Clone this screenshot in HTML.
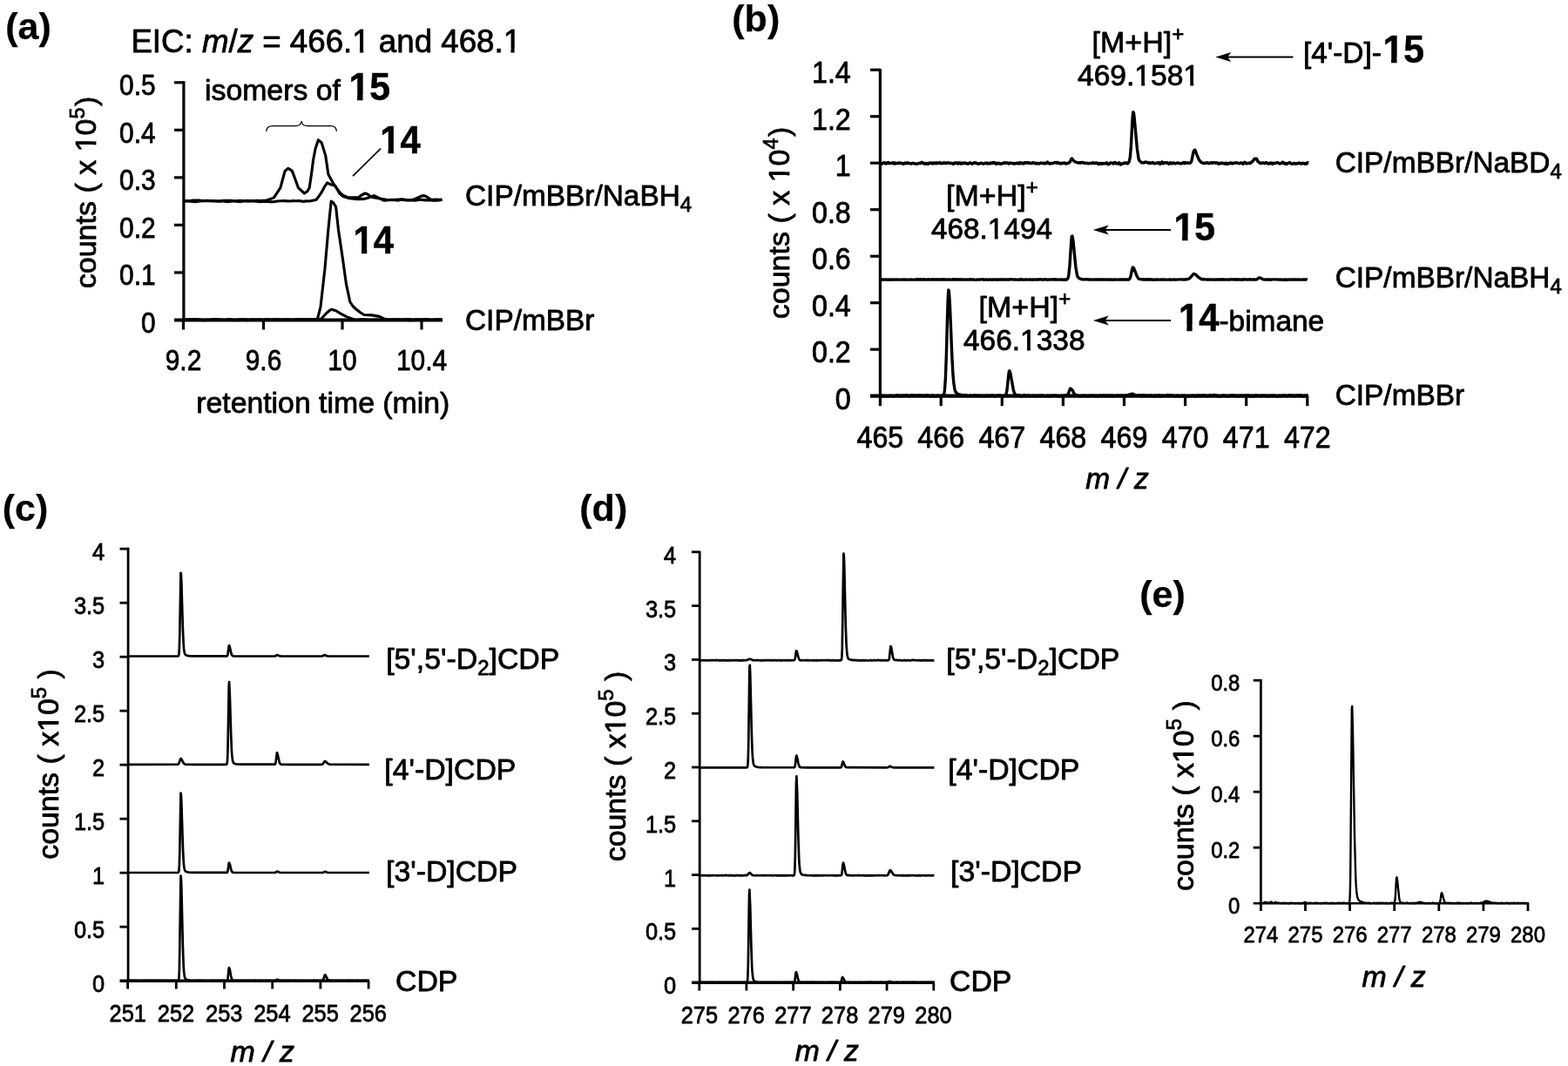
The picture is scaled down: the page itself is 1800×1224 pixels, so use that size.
<!DOCTYPE html>
<html lang="en"><head><meta charset="utf-8"><title>Figure</title>
<style>html,body{margin:0;padding:0;background:#fff}svg{display:block}text{font-family:"Liberation Sans",Arial,Helvetica,sans-serif;fill:#000}</style>
</head><body>
<svg width="1800" height="1224" viewBox="0 0 1800 1224">
<rect x="0" y="0" width="1800" height="1224" fill="#fff"/>
<g id="panel-a">
<text x="6.2" y="45.1" font-size="43" font-weight="bold" stroke="#000" stroke-width="0.25" stroke-linejoin="round">(a)</text>
<text id="t1" x="150.4" y="60.3" font-size="36.7" stroke="#000" stroke-width="0.8" stroke-linejoin="round">EIC: <tspan font-style="italic">m</tspan>/<tspan font-style="italic">z</tspan> = 466.1 and 468.1</text>
<rect x="404.99" y="55.55" width="7.99" height="6.95" fill="#fff"/><rect x="417.21" y="55.55" width="6.89" height="6.95" fill="#fff"/><rect x="578.4" y="55.55" width="7.99" height="6.95" fill="#fff"/><rect x="590.61" y="55.55" width="6.89" height="6.95" fill="#fff"/>
<text x="235" y="115" font-size="33.8" stroke="#000" stroke-width="0.8" stroke-linejoin="round">isomers of</text>
<text x="400.5" y="115.3" font-size="44.2" font-weight="bold" textLength="47.5" lengthAdjust="spacingAndGlyphs" stroke="#000" stroke-width="0.5" stroke-linejoin="round">15</text>
<rect x="401.78" y="109.16" width="8.3" height="7.84" fill="#fff"/>
<rect x="416.55" y="109.16" width="7.45" height="7.84" fill="#fff"/>
<text x="436.2" y="176.2" font-size="44.2" font-weight="bold" textLength="46.4" lengthAdjust="spacingAndGlyphs" stroke="#000" stroke-width="0.5" stroke-linejoin="round">14</text>
<rect x="437.45" y="170.06" width="8.1" height="7.84" fill="#fff"/>
<rect x="451.88" y="170.06" width="7.27" height="7.84" fill="#fff"/>
<text x="405.6" y="291.4" font-size="44.2" font-weight="bold" textLength="46.4" lengthAdjust="spacingAndGlyphs" stroke="#000" stroke-width="0.5" stroke-linejoin="round">14</text>
<rect x="406.85" y="285.26" width="8.1" height="7.84" fill="#fff"/>
<rect x="421.28" y="285.26" width="7.27" height="7.84" fill="#fff"/>
<text x="534" y="236" font-size="33.4" stroke="#000" stroke-width="0.8" stroke-linejoin="round">CIP/mBBr/NaBH<tspan font-size="24" dy="6.5">4</tspan></text>
<text x="534" y="379" font-size="33.4" stroke="#000" stroke-width="0.8" stroke-linejoin="round">CIP/mBBr</text>
<line x1="210.9" y1="93.2" x2="210.9" y2="369.1" stroke="#000" stroke-width="3.2" stroke-linecap="butt"/>
<line x1="200" y1="367.5" x2="508" y2="367.5" stroke="#000" stroke-width="4.2" stroke-linecap="butt"/>
<text transform="translate(178.6,381.7) scale(0.88,1)" font-size="34" text-anchor="end" stroke="#000" stroke-width="0.8" stroke-linejoin="round">0</text>
<line x1="200" y1="312.95" x2="210.9" y2="312.95" stroke="#000" stroke-width="3.2" stroke-linecap="butt"/>
<text transform="translate(178.6,327.15) scale(0.88,1)" font-size="34" text-anchor="end" stroke="#000" stroke-width="0.8" stroke-linejoin="round">0.1</text>
<line x1="200" y1="258.4" x2="210.9" y2="258.4" stroke="#000" stroke-width="3.2" stroke-linecap="butt"/>
<text transform="translate(178.6,272.6) scale(0.88,1)" font-size="34" text-anchor="end" stroke="#000" stroke-width="0.8" stroke-linejoin="round">0.2</text>
<line x1="200" y1="203.85" x2="210.9" y2="203.85" stroke="#000" stroke-width="3.2" stroke-linecap="butt"/>
<text transform="translate(178.6,218.05) scale(0.88,1)" font-size="34" text-anchor="end" stroke="#000" stroke-width="0.8" stroke-linejoin="round">0.3</text>
<line x1="200" y1="149.3" x2="210.9" y2="149.3" stroke="#000" stroke-width="3.2" stroke-linecap="butt"/>
<text transform="translate(178.6,163.5) scale(0.88,1)" font-size="34" text-anchor="end" stroke="#000" stroke-width="0.8" stroke-linejoin="round">0.4</text>
<line x1="200" y1="94.75" x2="210.9" y2="94.75" stroke="#000" stroke-width="3.2" stroke-linecap="butt"/>
<text transform="translate(178.6,108.95) scale(0.88,1)" font-size="34" text-anchor="end" stroke="#000" stroke-width="0.8" stroke-linejoin="round">0.5</text>
<line x1="210.5" y1="367.5" x2="210.5" y2="378.5" stroke="#000" stroke-width="3.2" stroke-linecap="butt"/>
<text transform="translate(210.5,424.5) scale(0.88,1)" font-size="34" text-anchor="middle" stroke="#000" stroke-width="0.8" stroke-linejoin="round">9.2</text>
<line x1="302.5" y1="367.5" x2="302.5" y2="378.5" stroke="#000" stroke-width="3.2" stroke-linecap="butt"/>
<text transform="translate(302.5,424.5) scale(0.88,1)" font-size="34" text-anchor="middle" stroke="#000" stroke-width="0.8" stroke-linejoin="round">9.6</text>
<line x1="393" y1="367.5" x2="393" y2="378.5" stroke="#000" stroke-width="3.2" stroke-linecap="butt"/>
<text transform="translate(393,424.5) scale(0.88,1)" font-size="34" text-anchor="middle" stroke="#000" stroke-width="0.8" stroke-linejoin="round">10</text>
<line x1="484" y1="367.5" x2="484" y2="378.5" stroke="#000" stroke-width="3.2" stroke-linecap="butt"/>
<text transform="translate(484,424.5) scale(0.88,1)" font-size="34" text-anchor="middle" stroke="#000" stroke-width="0.8" stroke-linejoin="round">10.4</text>
<text x="225.2" y="474" font-size="33.8" stroke="#000" stroke-width="0.8" stroke-linejoin="round">retention time (min)</text>
<g transform="translate(110,331.2) rotate(-90)"><text id="t2" font-size="34" stroke="#000" stroke-width="0.8" stroke-linejoin="round">counts ( x 10<tspan font-size="23.5" dy="-13">5</tspan><tspan dy="13" dx="1.5">)</tspan></text><rect x="157.51" y="-4.55" width="7.36" height="6.75" fill="#fff"/><rect x="168.86" y="-4.55" width="6.34" height="6.75" fill="#fff"/></g>
<path d="M305.8,151 C305.8,146.5 308,144.7 313,144.7 L339,144.7 C343.5,144.7 345.5,143 346,139 C346.5,143 348.5,144.7 353,144.7 L379.5,144.7 C384.3,144.7 386.3,146.5 386.3,151" fill="none" stroke="#000" stroke-width="1.2"/>
<line x1="405" y1="202.2" x2="437" y2="170.6" stroke="#000" stroke-width="1.8" stroke-linecap="butt"/>
<path d="M212,230.42 L215.3,230.75 L218.45,230.64 L222.18,230.16 L226.19,230.14 L230.06,230.17 L233.24,230.52 L237.9,230.22 L241.34,230.73 L246.24,230.68 L250.03,231.08 L253.12,230.96 L256.7,230.24 L259.94,230.41 L264.57,230.28 L268.73,230.74 L272.48,230.65 L275.6,230.16 L279.02,230.78 L282.87,230.41 L287.04,230.55 L290.64,230.89 L295.04,230.34 L299.19,230.63 L306,230 L314.3,227.1 L321.9,215.6 L325,204 L327.1,196.4 L330.9,193.3 L335.4,196.4 L339,206 L342.4,215.6 L349.4,222 L353,219.5 L355.2,215.6 L357.5,200 L359.6,183.7 L362,171 L365.4,160.7 L369.2,163.9 L373.7,178.6 L376.9,200.3 L383.3,211.8 L389.7,220.7 L394,224.5 L398.6,226.5 L411.4,226.7 L415,224 L419.1,222 L422,223 L425.4,225.8 L430,227 L436,228 L443.3,229.2 L447,229.53 L450.58,229.78 L453.81,229.22 L458.33,228.95 L462.3,228.84 L466.64,229.56 L470.79,229.68 L475.3,229 L481,226.5 L484,225 L486.8,224.6 L490,226 L494.4,229 L497,229.23 L500.19,229.1 L503.1,229.41 L507.5,229" fill="none" stroke="#000" stroke-width="3.1" stroke-linejoin="round" stroke-linecap="butt" />
<path d="M212,231.17 L216.33,230.67 L220.73,231.38 L225.72,231.59 L229.29,231.06 L233.62,230.63 L237.55,230.8 L240.78,230.67 L245.32,230.76 L248.81,231.07 L253.56,230.7 L257.45,231.26 L262.22,231.58 L266.95,230.93 L270.78,231.03 L275.55,231.75 L278.85,230.81 L282.31,230.88 L286.28,231.31 L289.81,230.6 L293.65,231.04 L297.78,231.74 L302.16,231.22 L306.4,231.41 L309.5,231.68 L314.06,231.65 L318.66,231.07 L322.46,230.72 L326.73,230.67 L329.86,230.85 L333.19,231.01 L336.29,230.6 L339.59,230.72 L343.32,230.63 L348.07,231.34 L351.37,230.9 L355.06,231.04 L362.8,229.5 L366,225.5 L369.2,220.7 L372.5,214.5 L375.6,209.9 L379.4,211.8 L384.6,213 L387,217 L389.7,222 L394,225.5 L401.2,227.8 L410,228.6 L417.8,228.4 L423,227 L429.3,224.6 L433,226.5 L437,228.4 L441,230.22 L445.99,229.76 L449.95,229.3 L453.16,229.61 L456.69,230.19 L460.01,229.23 L464.91,229.83 L468.21,229.85 L471.26,229.83 L476.22,230.24 L480.61,229.51 L484.34,229.4 L488.89,229.84 L493.44,229.6 L496.89,230.17 L501.86,230.22 L507.5,229.5" fill="none" stroke="#000" stroke-width="3.1" stroke-linejoin="round" stroke-linecap="butt" />
<path d="M212,367.25 L216.48,366.78 L220.52,366.88 L223.57,366.62 L227.13,366.81 L231.52,367.37 L235.41,367.35 L240.39,367.36 L244.12,366.78 L247.57,366.76 L250.98,367.1 L255.78,367.27 L259.74,367.12 L264.34,366.67 L268.66,367.33 L273.22,367.2 L277.18,366.74 L281.76,366.87 L286.36,367.38 L290.15,366.92 L295.04,367.18 L298.38,366.7 L301.69,367.32 L306.3,366.72 L310.95,367.38 L315.27,366.88 L319.37,366.7 L322.39,367.38 L326.69,367.02 L331.56,366.95 L336.3,367.26 L339.73,366.8 L343.31,366.79 L347.48,366.81 L351.32,366.7 L356.14,366.88 L364.4,366.3 L368,352.4 L373,308.2 L376.8,264.1 L380.2,231 L382.5,232.5 L385.6,237.6 L388.5,264.1 L392.9,293.5 L397.4,325.9 L401.8,346.5 L405,351.5 L409.1,355.3 L413.5,358.8 L417.9,361.5 L426.8,361.9 L435.6,363.4 L441.5,366.3 L446,367.08 L450.81,366.92 L455.64,367 L459.71,367.02 L462.75,366.94 L466.11,366.5 L470.71,366.67 L474.66,367.23 L478.77,366.83 L482.81,367.06 L487.37,366.61 L491.5,366.75 L495.05,367.27 L499.06,367.06 L503.58,367.41 L507.5,367" fill="none" stroke="#000" stroke-width="3.1" stroke-linejoin="round" stroke-linecap="butt" />
<path d="M212,367.39 L216.01,367.31 L220.4,367.26 L224.46,367.28 L229.35,367.46 L234.1,367.65 L237.62,367.35 L242.5,367.57 L245.78,367 L249.66,366.96 L253.14,366.96 L257.48,367.53 L262.28,367.02 L266.71,367.43 L270,367.61 L274.93,367.08 L279.84,367.22 L283.81,367.69 L288.48,367.03 L292.34,367.31 L296.02,367.06 L299.65,367.48 L302.69,367.34 L306.57,366.91 L310.24,367.4 L314.26,366.95 L319.23,367.53 L324.17,366.98 L327.71,366.93 L332.26,367.12 L335.52,367.24 L340.35,367.56 L343.86,367.02 L348.7,367.36 L353.1,366.97 L356.22,367.45 L360.07,366.96 L368.7,366.3 L374.6,359.7 L378,356.8 L380.4,355.3 L385.6,356.8 L391.5,360.4 L398.8,364.1 L404.7,366.3 L409,367.43 L413.6,366.88 L418.32,366.87 L423.04,367.25 L426.72,367.35 L431.57,367.07 L434.83,367.33 L438.31,366.91 L441.63,366.85 L445.03,367.11 L448.64,367.56 L452.22,367.3 L455.58,367.15 L458.62,367.05 L461.65,367.53 L465.75,366.99 L469.7,367.73 L472.91,367.62 L476.78,367.3 L481.45,367.19 L485.46,367.49 L490.42,367.14 L495.09,367.51 L499.36,367.2 L503.06,366.85 L507.5,367" fill="none" stroke="#000" stroke-width="3.1" stroke-linejoin="round" stroke-linecap="butt" />
</g>
<g id="panel-b">
<text x="840.3" y="36.4" font-size="43" font-weight="bold" stroke="#000" stroke-width="0.25" stroke-linejoin="round">(b)</text>
<line x1="1010.4" y1="79" x2="1010.4" y2="456.3" stroke="#000" stroke-width="3.2" stroke-linecap="butt"/>
<line x1="999" y1="454.7" x2="1501.8" y2="454.7" stroke="#000" stroke-width="4.2" stroke-linecap="butt"/>
<text transform="translate(976.8,469.7) scale(0.935,1)" font-size="34.5" text-anchor="end" stroke="#000" stroke-width="0.8" stroke-linejoin="round">0</text>
<line x1="999" y1="401.2" x2="1010.4" y2="401.2" stroke="#000" stroke-width="3.2" stroke-linecap="butt"/>
<text transform="translate(976.8,416.2) scale(0.935,1)" font-size="34.5" text-anchor="end" stroke="#000" stroke-width="0.8" stroke-linejoin="round">0.2</text>
<line x1="999" y1="347.7" x2="1010.4" y2="347.7" stroke="#000" stroke-width="3.2" stroke-linecap="butt"/>
<text transform="translate(976.8,362.7) scale(0.935,1)" font-size="34.5" text-anchor="end" stroke="#000" stroke-width="0.8" stroke-linejoin="round">0.4</text>
<line x1="999" y1="294.2" x2="1010.4" y2="294.2" stroke="#000" stroke-width="3.2" stroke-linecap="butt"/>
<text transform="translate(976.8,309.2) scale(0.935,1)" font-size="34.5" text-anchor="end" stroke="#000" stroke-width="0.8" stroke-linejoin="round">0.6</text>
<line x1="999" y1="240.7" x2="1010.4" y2="240.7" stroke="#000" stroke-width="3.2" stroke-linecap="butt"/>
<text transform="translate(976.8,255.7) scale(0.935,1)" font-size="34.5" text-anchor="end" stroke="#000" stroke-width="0.8" stroke-linejoin="round">0.8</text>
<line x1="999" y1="187.2" x2="1010.4" y2="187.2" stroke="#000" stroke-width="3.2" stroke-linecap="butt"/>
<text transform="translate(976.8,202.2) scale(0.935,1)" font-size="34.5" text-anchor="end" stroke="#000" stroke-width="0.8" stroke-linejoin="round">1</text>
<line x1="999" y1="133.7" x2="1010.4" y2="133.7" stroke="#000" stroke-width="3.2" stroke-linecap="butt"/>
<text transform="translate(976.8,148.7) scale(0.935,1)" font-size="34.5" text-anchor="end" stroke="#000" stroke-width="0.8" stroke-linejoin="round">1.2</text>
<line x1="999" y1="80.2" x2="1010.4" y2="80.2" stroke="#000" stroke-width="3.2" stroke-linecap="butt"/>
<text transform="translate(976.8,95.2) scale(0.935,1)" font-size="34.5" text-anchor="end" stroke="#000" stroke-width="0.8" stroke-linejoin="round">1.4</text>
<line x1="1010.4" y1="454.7" x2="1010.4" y2="466.2" stroke="#000" stroke-width="3.2" stroke-linecap="butt"/>
<text transform="translate(1010.4,513.6) scale(0.935,1)" font-size="34.5" text-anchor="middle" stroke="#000" stroke-width="0.8" stroke-linejoin="round">465</text>
<line x1="1080.2" y1="454.7" x2="1080.2" y2="466.2" stroke="#000" stroke-width="3.2" stroke-linecap="butt"/>
<text transform="translate(1080.2,513.6) scale(0.935,1)" font-size="34.5" text-anchor="middle" stroke="#000" stroke-width="0.8" stroke-linejoin="round">466</text>
<line x1="1150.3" y1="454.7" x2="1150.3" y2="466.2" stroke="#000" stroke-width="3.2" stroke-linecap="butt"/>
<text transform="translate(1150.3,513.6) scale(0.935,1)" font-size="34.5" text-anchor="middle" stroke="#000" stroke-width="0.8" stroke-linejoin="round">467</text>
<line x1="1220.4" y1="454.7" x2="1220.4" y2="466.2" stroke="#000" stroke-width="3.2" stroke-linecap="butt"/>
<text transform="translate(1220.4,513.6) scale(0.935,1)" font-size="34.5" text-anchor="middle" stroke="#000" stroke-width="0.8" stroke-linejoin="round">468</text>
<line x1="1290.5" y1="454.7" x2="1290.5" y2="466.2" stroke="#000" stroke-width="3.2" stroke-linecap="butt"/>
<text transform="translate(1290.5,513.6) scale(0.935,1)" font-size="34.5" text-anchor="middle" stroke="#000" stroke-width="0.8" stroke-linejoin="round">469</text>
<line x1="1360.6" y1="454.7" x2="1360.6" y2="466.2" stroke="#000" stroke-width="3.2" stroke-linecap="butt"/>
<text transform="translate(1360.6,513.6) scale(0.935,1)" font-size="34.5" text-anchor="middle" stroke="#000" stroke-width="0.8" stroke-linejoin="round">470</text>
<line x1="1430.7" y1="454.7" x2="1430.7" y2="466.2" stroke="#000" stroke-width="3.2" stroke-linecap="butt"/>
<text transform="translate(1430.7,513.6) scale(0.935,1)" font-size="34.5" text-anchor="middle" stroke="#000" stroke-width="0.8" stroke-linejoin="round">471</text>
<line x1="1500.8" y1="454.7" x2="1500.8" y2="466.2" stroke="#000" stroke-width="3.2" stroke-linecap="butt"/>
<text transform="translate(1500.8,513.6) scale(0.935,1)" font-size="34.5" text-anchor="middle" stroke="#000" stroke-width="0.8" stroke-linejoin="round">472</text>
<text x="1246.3" y="560.6" font-size="33" font-style="italic" textLength="72.5" lengthAdjust="spacingAndGlyphs" stroke="#000" stroke-width="0.8" stroke-linejoin="round">m / z</text>
<g transform="translate(906,366.2) rotate(-90)"><text id="t3" font-size="34" stroke="#000" stroke-width="0.8" stroke-linejoin="round">counts ( x 10<tspan font-size="23.5" dy="-13">4</tspan><tspan dy="13" dx="1.5">)</tspan></text><rect x="157.51" y="-4.55" width="7.36" height="6.75" fill="#fff"/><rect x="168.86" y="-4.55" width="6.34" height="6.75" fill="#fff"/></g>
<path d="M1010.4,454.75 L1010.9,454.61 L1012.4,454.99 L1012.9,454.55 L1013.9,454.32 L1015.9,454.82 L1016.4,454.61 L1016.9,454.92 L1017.4,454.98 L1017.9,454.98 L1018.4,454.58 L1019.9,454.91 L1020.4,454.64 L1020.9,454.7 L1021.9,454.24 L1023.4,454.77 L1026.9,454.48 L1029.4,454.09 L1029.9,453.77 L1031.9,454.57 L1032.9,454.12 L1034.4,454.96 L1035.9,453.93 L1036.9,454.38 L1037.4,454.37 L1038.9,454.21 L1039.9,453.65 L1043.9,454.94 L1045.4,453.93 L1046.4,454.04 L1047.4,454.47 L1048.9,453.94 L1049.9,454.31 L1050.9,454.22 L1052.4,454.56 L1053.4,454.25 L1053.9,453.82 L1054.4,453.77 L1055.9,454.2 L1057.9,454.09 L1058.4,454.38 L1059.4,454.57 L1060.9,454.23 L1061.9,454.56 L1063.4,454 L1064.4,454.04 L1066.9,454.43 L1067.4,454.79 L1067.9,454.66 L1068.4,454.9 L1068.9,454.55 L1069.4,454.78 L1069.9,454.22 L1070.9,453.93 L1071.9,454.92 L1072.9,455.04 L1073.4,454.78 L1073.9,454.88 L1075.4,454.54 L1075.9,454.28 L1076.4,454.5 L1076.9,454.25 L1078.4,454.75 L1080.9,454.3 L1081.9,454.54 L1082.9,453.97 L1083.4,453.24 L1083.9,451.63 L1084.4,448.21 L1085.4,434.34 L1086.4,406.79 L1087.9,351.15 L1088.4,338.55 L1088.9,332.9 L1089.4,334.92 L1090.4,349.73 L1092.9,410.36 L1093.9,428.66 L1094.4,434.84 L1094.9,439.95 L1095.9,446.51 L1096.4,448.69 L1096.9,450.12 L1097.9,450.69 L1098.4,451.54 L1099.4,452.58 L1099.9,452.55 L1101.4,452.97 L1101.9,452.88 L1103.4,453.69 L1105.4,453.66 L1105.9,454.11 L1106.9,454.36 L1107.9,453.87 L1108.9,453.81 L1110.9,454.74 L1113.4,454.36 L1113.9,453.95 L1114.9,454.44 L1116.4,454.37 L1116.9,454.54 L1117.4,454.18 L1118.4,453.91 L1120.4,454.2 L1121.9,454.65 L1123.9,454.14 L1124.9,454.37 L1126.4,454.36 L1127.9,454.71 L1128.9,454.31 L1129.4,454.64 L1130.4,454.84 L1130.9,454.48 L1132.4,454.11 L1133.4,454.49 L1134.9,454.22 L1135.4,454.57 L1136.9,454.18 L1137.9,454.51 L1139.4,453.82 L1140.9,454.8 L1141.9,454.87 L1143.4,454.29 L1143.9,454.46 L1145.4,454.09 L1145.9,454.3 L1147.4,454.07 L1147.9,454.35 L1149.4,454.31 L1150.4,454.74 L1151.4,454.7 L1151.9,454.35 L1152.9,454.38 L1153.4,454.68 L1154.4,453.92 L1154.9,452.9 L1155.9,448.68 L1157.9,429.63 L1158.4,426.28 L1158.9,425.71 L1159.9,428.79 L1163.4,448 L1164.4,451.18 L1165.9,453.37 L1166.9,454.24 L1167.4,454.01 L1167.9,454.22 L1168.4,453.93 L1168.9,454.25 L1169.9,453.76 L1170.4,453.72 L1171.9,454.88 L1172.9,454.76 L1173.4,454.5 L1174.4,454.78 L1175.4,454.33 L1175.9,453.51 L1176.4,453.85 L1176.9,453.85 L1177.4,454.57 L1178.4,454.85 L1179.4,454.24 L1180.4,454.05 L1181.9,454.5 L1182.4,454.37 L1183.4,454.58 L1185.4,454.29 L1186.9,454.55 L1188.4,454.37 L1189.4,454.46 L1189.9,454.85 L1190.9,454.55 L1191.4,454.15 L1192.9,454.51 L1193.9,454.42 L1194.4,454.58 L1195.4,454.44 L1195.9,453.99 L1196.4,453.98 L1196.9,454.09 L1197.4,454.66 L1199.4,454.58 L1201.4,454.88 L1201.9,454.49 L1202.9,454.31 L1203.9,454.59 L1204.4,454.99 L1205.9,454.28 L1208.4,454.53 L1208.9,454.19 L1209.4,454.36 L1209.9,454.02 L1210.4,454.16 L1210.9,453.95 L1211.9,454.38 L1213.4,454.44 L1214.4,454.74 L1215.9,454.7 L1216.4,454.44 L1217.4,454.95 L1217.9,454.84 L1218.9,454.14 L1219.4,454.62 L1219.9,454.73 L1221.4,454.2 L1222.4,454.41 L1223.9,453.86 L1225.4,453.68 L1226.4,451.95 L1228.4,446.36 L1228.9,445.93 L1230.9,448.02 L1231.4,448.28 L1232.9,451.78 L1234.4,453.27 L1236.4,454.12 L1237.4,454.31 L1237.9,454.18 L1238.4,454.57 L1239.4,454.71 L1240.4,454.68 L1240.9,454.41 L1241.4,454.56 L1241.9,454.29 L1243.9,454.71 L1244.9,454.05 L1246.9,454.7 L1249.4,454.39 L1250.4,454.5 L1251.4,454.22 L1252.4,454.51 L1252.9,454.36 L1255.4,454.32 L1256.4,454.43 L1256.9,454.69 L1257.9,454.57 L1258.4,454.22 L1258.9,454.7 L1259.4,454.55 L1259.9,454.89 L1260.4,454.41 L1261.4,454.78 L1262.9,454 L1263.4,454.4 L1263.9,454.36 L1264.4,454.62 L1264.9,454.65 L1266.4,453.99 L1266.9,454.45 L1267.4,454.21 L1267.9,454.52 L1268.9,454.65 L1269.9,453.92 L1271.4,454.58 L1272.4,454.49 L1272.9,454.72 L1273.4,454.22 L1274.4,454.13 L1274.9,454.62 L1275.4,454.81 L1275.9,454.26 L1276.9,454.11 L1277.4,454.92 L1278.4,454.61 L1278.9,454.2 L1279.4,454.5 L1280.4,454.66 L1280.9,454.39 L1281.4,454.5 L1281.9,454.23 L1282.4,454.38 L1283.4,454.06 L1284.9,454.54 L1287.4,454.31 L1287.9,454.55 L1288.4,454.52 L1288.9,454.09 L1289.9,454.31 L1290.4,454.65 L1292.9,453.94 L1294.9,453.7 L1295.4,453.39 L1295.9,453.47 L1296.4,452.97 L1297.9,452.9 L1298.9,452.32 L1299.9,452.24 L1300.9,452.41 L1303.4,454.11 L1303.9,454.24 L1307.9,454.04 L1309.9,454.45 L1310.4,454.79 L1310.9,454.29 L1311.4,454.28 L1311.9,453.65 L1312.9,454.69 L1313.9,454.45 L1314.4,454.1 L1314.9,454.46 L1315.4,454.52 L1315.9,454.08 L1316.9,454.24 L1317.4,454.6 L1317.9,454.37 L1319.4,454.46 L1320.4,453.99 L1320.9,453.95 L1321.4,454.06 L1321.9,454.55 L1323.4,454.35 L1324.9,454.95 L1326.4,454.08 L1327.4,454.93 L1327.9,454.93 L1328.9,454.32 L1329.9,454.28 L1330.9,453.8 L1331.9,454.95 L1332.4,455 L1333.4,454.21 L1333.9,454.2 L1334.4,454.53 L1336.4,454.34 L1336.9,454.55 L1337.4,454.34 L1338.9,454.29 L1339.9,453.63 L1340.4,453.54 L1342.4,454.5 L1343.4,454.38 L1344.4,453.81 L1345.4,454.11 L1345.9,454.54 L1346.9,454.44 L1349.9,454.74 L1350.9,454.46 L1351.4,454.12 L1351.9,454.08 L1352.9,454.81 L1353.4,454.94 L1354.4,454.69 L1355.4,454.92 L1355.9,454.52 L1356.9,454.17 L1357.4,454.6 L1357.9,454.72 L1358.9,454.22 L1359.9,454.1 L1360.4,454.4 L1362.9,455 L1363.4,454.55 L1363.9,454.42 L1365.4,454.97 L1366.9,454.47 L1367.9,454.65 L1369.4,454.2 L1370.9,454.39 L1371.9,454.95 L1372.4,454.88 L1372.9,454.3 L1374.4,454.72 L1374.9,454.23 L1375.9,454.03 L1377.4,454.49 L1377.9,454.53 L1378.4,454.31 L1378.9,454.54 L1380.4,453.97 L1380.9,453.95 L1383.4,454.23 L1384.4,454.72 L1384.9,454.72 L1385.9,454.38 L1387.4,454.5 L1387.9,454.11 L1388.9,453.86 L1389.4,454.36 L1389.9,454.26 L1390.9,454.68 L1391.9,454.4 L1392.4,453.82 L1393.4,453.48 L1394.4,454.05 L1394.9,454.05 L1395.4,453.76 L1396.9,454.32 L1397.4,454.27 L1398.4,454.99 L1398.9,455.1 L1399.9,454.62 L1400.9,454.95 L1401.4,454.87 L1404.9,453.85 L1405.9,454.43 L1408.9,454.52 L1409.4,455.16 L1409.9,454.67 L1410.9,454.36 L1411.4,454.59 L1412.4,454.63 L1413.9,453.73 L1416.4,454.51 L1417.4,454.22 L1418.9,454.69 L1419.4,454.49 L1422.4,454.68 L1422.9,454.31 L1423.4,454.52 L1425.4,454.11 L1425.9,454.57 L1426.4,454.35 L1426.9,454.47 L1428.9,454.3 L1430.4,454.54 L1430.9,453.99 L1432.4,454.3 L1432.9,454.13 L1433.4,454.2 L1433.9,454.66 L1434.4,454.47 L1434.9,454.65 L1435.4,454.45 L1435.9,455.01 L1436.4,454.74 L1436.9,454.87 L1437.4,454.43 L1437.9,454.27 L1438.9,454.54 L1439.4,454.97 L1439.9,454.93 L1440.9,454.18 L1441.9,453.92 L1443.4,454.42 L1444.9,454.36 L1446.4,454.71 L1447.4,454.2 L1448.4,454.41 L1448.9,454.83 L1449.4,454.33 L1450.4,454.09 L1451.4,454.09 L1451.9,454.2 L1452.9,454.95 L1454.4,454.12 L1455.4,454.67 L1455.9,454.37 L1456.4,454.35 L1457.4,454.74 L1458.4,454.46 L1459.4,454.49 L1459.9,454.14 L1460.4,454.06 L1461.9,454.62 L1463.4,454.24 L1464.4,454.7 L1466.4,455.11 L1468.4,454.64 L1468.9,454.18 L1470.4,454.78 L1470.9,454.77 L1472.4,454.16 L1472.9,454.37 L1473.9,454.32 L1474.9,453.97 L1475.9,454.58 L1477.9,454.6 L1478.9,453.95 L1479.4,453.94 L1480.4,454.3 L1481.9,453.86 L1482.4,454.34 L1482.9,454.1 L1483.4,454.24 L1483.9,453.95 L1485.9,454.84 L1487.9,453.98 L1488.9,454.24 L1489.9,454.25 L1490.9,453.78 L1492.4,454.74 L1492.9,454.49 L1493.4,453.83 L1493.9,453.83 L1494.9,454.67 L1496.4,454.97 L1498.4,454.45 L1499.4,453.86 L1500.9,454.3" fill="none" stroke="#000" stroke-width="3.4" stroke-linejoin="round" stroke-linecap="butt" />
<path d="M1010.4,321.22 L1010.9,321.04 L1011.9,321.13 L1012.4,321.36 L1013.9,320.99 L1015.4,321.15 L1016.9,320.92 L1018.9,321.21 L1019.9,321.07 L1022.9,321.21 L1024.4,320.84 L1025.4,321.22 L1028.4,320.84 L1034.4,321.13 L1037.9,320.92 L1040.9,321.27 L1041.4,321.08 L1044.9,321.15 L1045.4,320.94 L1047.4,321.15 L1050.4,321.13 L1052.4,320.72 L1054.9,321.02 L1055.9,320.73 L1058.4,321.02 L1061.9,320.79 L1063.4,321.1 L1065.9,320.77 L1067.4,321.07 L1068.4,320.85 L1069.9,321.04 L1070.9,320.69 L1072.4,321.09 L1074.9,320.81 L1076.4,321.12 L1076.9,320.89 L1077.9,320.88 L1078.4,321.07 L1083.9,320.74 L1086.4,321.11 L1087.9,320.94 L1088.9,321.2 L1089.4,321.04 L1091.9,321.13 L1093.4,320.79 L1100.9,321.05 L1102.4,320.76 L1102.9,320.96 L1104.4,320.82 L1106.4,321.1 L1107.4,320.84 L1108.9,321.15 L1110.4,320.96 L1111.9,321.1 L1113.4,320.78 L1114.9,321.04 L1117.4,320.98 L1119.9,321.37 L1122.4,320.95 L1124.9,321.12 L1125.4,320.87 L1126.9,320.89 L1127.9,320.69 L1128.9,320.88 L1129.4,321.21 L1132.9,320.94 L1134.4,321.29 L1135.9,320.92 L1137.9,321.02 L1138.4,321.21 L1140.9,320.81 L1142.4,321.15 L1143.4,320.88 L1144.4,321.22 L1144.9,321.21 L1145.9,320.79 L1147.4,321.19 L1148.9,320.79 L1150.4,321.06 L1151.9,320.81 L1152.9,321.02 L1156.4,321.03 L1156.9,321.21 L1158.4,320.8 L1158.9,321 L1160.4,320.7 L1162.9,320.88 L1163.9,321.19 L1165.9,320.81 L1167.4,321.12 L1169.9,321.18 L1171.4,320.75 L1175.4,321.19 L1176.9,320.94 L1180.9,321.15 L1182.4,320.87 L1184.9,321.3 L1186.4,320.87 L1188.9,321.15 L1189.4,320.87 L1192.4,321.07 L1193.9,320.66 L1195.4,321.05 L1196.4,320.89 L1197.9,321.24 L1199.9,320.72 L1201.4,320.91 L1201.9,321.18 L1202.9,321.17 L1203.4,320.98 L1204.9,321.19 L1206.4,320.91 L1206.9,321.02 L1208.4,320.61 L1209.9,321.05 L1211.4,320.76 L1213.9,321.08 L1218.4,320.94 L1220.9,321.29 L1222.4,321 L1222.9,321.23 L1223.9,321.23 L1225.4,320.22 L1225.9,319.55 L1226.4,318.07 L1226.9,315.5 L1227.9,305.89 L1229.9,275.23 L1230.4,271.31 L1230.9,271.07 L1231.4,273.1 L1231.9,276.45 L1234.9,306.52 L1236.4,315.6 L1236.9,317.21 L1237.9,318.9 L1240.4,320.25 L1240.9,320.2 L1242.4,320.82 L1245.4,320.66 L1250.9,321.06 L1252.4,320.87 L1253.9,321.1 L1256.9,320.86 L1263.9,321.04 L1265.4,320.87 L1265.9,321.05 L1267.4,320.95 L1268.9,321.14 L1269.9,320.94 L1271.4,321.15 L1272.4,320.95 L1273.9,321.21 L1274.9,320.88 L1277.4,321.26 L1279.4,320.88 L1284.4,321.16 L1285.4,320.95 L1286.4,321.06 L1287.9,320.88 L1288.9,321.03 L1293.4,321.02 L1294.4,320.82 L1295.9,320.94 L1296.9,320.07 L1297.9,317.5 L1299.9,308.12 L1300.4,307.01 L1300.9,307.13 L1301.9,308.56 L1304.9,316.49 L1305.9,318.42 L1306.9,319.86 L1307.9,320.36 L1308.9,320.6 L1310.9,320.7 L1312.9,321.04 L1319.4,320.72 L1324.4,321.21 L1327.9,320.97 L1331.9,321.17 L1333.4,320.78 L1334.4,321.09 L1336.9,320.87 L1338.4,321.14 L1340.9,321.1 L1342.9,320.85 L1343.4,321.13 L1344.4,321.28 L1344.9,321.09 L1348.4,320.96 L1349.9,321.18 L1353.9,320.85 L1357.4,320.84 L1358.9,321.02 L1359.9,321 L1360.9,320.72 L1362.9,320.76 L1364.9,320.01 L1365.9,319.41 L1369.9,314.75 L1370.4,314.42 L1371.4,314.64 L1372.9,315.49 L1375.9,318.41 L1378.4,320.24 L1380.4,320.73 L1381.9,320.49 L1382.4,320.75 L1384.9,320.87 L1385.4,321.07 L1386.9,320.91 L1388.4,321 L1388.9,320.83 L1392.4,321.09 L1393.4,320.84 L1394.9,321.2 L1396.4,320.94 L1397.9,321.1 L1398.4,320.83 L1398.9,320.95 L1399.4,320.81 L1399.9,321.04 L1401.9,320.93 L1402.4,321.05 L1403.9,320.73 L1405.4,321.15 L1405.9,320.87 L1408.4,321.16 L1410.9,320.85 L1412.4,321.09 L1413.9,320.66 L1415.9,321.06 L1418.9,320.76 L1420.9,321.02 L1422.4,320.86 L1424.4,321.26 L1425.9,320.85 L1427.4,321.21 L1428.9,320.67 L1430.9,321.14 L1431.9,321.01 L1433.4,321.11 L1434.9,320.58 L1436.4,321.08 L1437.9,320.89 L1438.4,321.03 L1439.9,320.89 L1441.4,321.03 L1442.9,320.75 L1444.9,319.22 L1445.9,318.89 L1447.4,319.38 L1449.4,320.55 L1451.9,321.17 L1453.9,320.86 L1455.4,321.02 L1456.9,320.9 L1457.9,321.04 L1458.4,321.33 L1459.9,320.91 L1466.9,320.89 L1467.4,321.1 L1468.4,321.11 L1469.9,320.9 L1471.4,321.2 L1473.4,321.22 L1474.9,321 L1477.4,321.2 L1479.9,321.14 L1480.4,320.94 L1482.4,321.16 L1483.9,320.82 L1485.4,320.99 L1487.4,320.88 L1488.9,321.21 L1489.9,320.9 L1493.4,321.14 L1496.9,320.84 L1498.9,321.06 L1500.4,320.91 L1500.9,321.07" fill="none" stroke="#000" stroke-width="3.4" stroke-linejoin="round" stroke-linecap="butt" />
<path d="M1010.4,188.03 L1011.9,188.46 L1012.9,187.88 L1013.4,187.19 L1013.9,186.93 L1014.4,187.04 L1014.9,186.61 L1015.9,186.97 L1016.4,187.77 L1016.9,187.7 L1017.4,187.96 L1017.9,187.51 L1018.4,187.57 L1018.9,186.66 L1019.9,186.45 L1020.4,187.37 L1020.9,187.73 L1021.9,187.39 L1022.4,187.38 L1022.9,187.61 L1024.4,187.18 L1024.9,186.69 L1025.4,186.75 L1026.4,188.11 L1026.9,188.06 L1027.9,187.07 L1028.9,187.68 L1030.4,187.28 L1030.9,187.58 L1032.4,186.91 L1033.4,187.32 L1034.4,187.31 L1034.9,187.51 L1035.4,187.36 L1036.9,188.45 L1037.4,187.65 L1037.9,187.86 L1038.4,187.14 L1038.9,187.25 L1039.4,187.01 L1039.9,187.82 L1040.4,187.71 L1041.9,186.75 L1043.4,187.6 L1044.4,187.63 L1045.9,188.03 L1046.9,187.72 L1047.4,187.17 L1047.9,187.58 L1048.4,187.43 L1048.9,187.7 L1049.4,187.45 L1050.4,187.92 L1050.9,187.86 L1051.4,188.22 L1051.9,187.98 L1052.4,188.36 L1052.9,187.93 L1053.4,187.96 L1055.4,187.27 L1056.4,187.7 L1056.9,187.55 L1057.9,186.29 L1058.9,186.64 L1059.9,187.38 L1060.4,188.03 L1061.4,188.08 L1061.9,187.41 L1062.9,187.72 L1063.4,188.28 L1063.9,187.6 L1064.4,187.47 L1064.9,187.54 L1065.4,188.28 L1066.4,187.14 L1066.9,187.08 L1067.4,187.59 L1068.4,187.06 L1068.9,187.2 L1069.4,187.06 L1069.9,187.68 L1070.4,187.43 L1070.9,187.87 L1071.4,187.13 L1071.9,186.97 L1072.9,187.03 L1073.4,187.74 L1073.9,187.19 L1074.4,187.25 L1074.9,186.71 L1075.9,187.74 L1077.9,187.13 L1078.4,186.5 L1079.4,187.04 L1079.9,187.77 L1080.4,187.34 L1081.4,187.3 L1082.4,187.67 L1082.9,187.22 L1083.4,187.3 L1083.9,186.72 L1084.9,187.43 L1085.9,187.48 L1086.4,186.93 L1086.9,187.47 L1088.4,186.83 L1089.9,187.51 L1091.4,187.1 L1091.9,187.45 L1092.4,187.41 L1092.9,187.65 L1093.4,188.13 L1094.4,188.39 L1094.9,187.23 L1095.4,187.71 L1095.9,187.12 L1096.4,187.72 L1096.9,187.25 L1097.4,187.18 L1097.9,186.8 L1098.4,186.79 L1099.4,187.94 L1099.9,187.96 L1100.9,186.98 L1101.4,186.75 L1101.9,187.37 L1102.9,188.09 L1103.9,187.03 L1104.9,187.69 L1105.4,187.7 L1105.9,187.62 L1106.4,187.12 L1106.9,187.54 L1107.4,187.02 L1108.4,187.17 L1109.4,187.92 L1109.9,187.56 L1111.4,188.18 L1112.4,187.31 L1112.9,187.28 L1113.4,186.8 L1114.4,187.13 L1114.9,187.83 L1115.9,188.23 L1117.4,187.15 L1117.9,187.31 L1118.4,186.85 L1118.9,187.15 L1119.4,186.67 L1119.9,187.05 L1120.4,186.85 L1121.4,187.71 L1121.9,187.68 L1122.4,188.23 L1123.4,188 L1123.9,187.69 L1125.4,187.68 L1125.9,187.19 L1127.4,187.34 L1128.4,188.06 L1128.9,188.07 L1130.4,187.6 L1130.9,187.27 L1131.9,187.17 L1132.4,187.69 L1132.9,187.14 L1133.4,187.88 L1133.9,187.35 L1134.4,187.84 L1135.4,187.77 L1135.9,187.94 L1136.4,187.32 L1137.4,186.9 L1138.4,187.72 L1138.9,186.86 L1139.9,186.63 L1140.4,187.2 L1141.9,186.7 L1142.9,188.14 L1143.4,188.19 L1143.9,187.53 L1144.4,187.22 L1145.4,187.98 L1145.9,187.56 L1146.9,187.17 L1147.4,187.86 L1148.4,188.24 L1148.9,188.18 L1149.4,187.76 L1149.9,188.03 L1150.4,187.59 L1150.9,187.8 L1151.9,187.51 L1152.4,187.21 L1152.9,186.5 L1154.4,187.34 L1154.9,187.43 L1155.4,186.88 L1156.4,186.85 L1157.9,188.01 L1158.4,187.96 L1159.4,186.87 L1160.4,187.42 L1160.9,187.35 L1161.4,187.59 L1161.9,187.16 L1162.4,187.61 L1162.9,187.46 L1163.9,188.21 L1164.9,187.86 L1165.4,187.41 L1165.9,187.71 L1166.4,187.4 L1166.9,187.35 L1167.4,186.92 L1167.9,187.44 L1168.9,187.95 L1169.9,187.43 L1170.4,186.63 L1171.4,186.97 L1171.9,187.8 L1172.9,187.14 L1173.4,187.05 L1174.9,188.05 L1175.4,187.05 L1176.4,186.67 L1176.9,187.35 L1177.9,186.78 L1178.4,187.11 L1179.4,187.13 L1179.9,186.5 L1180.4,186.7 L1181.4,187.58 L1181.9,187.19 L1182.4,187.41 L1182.9,187.09 L1183.4,187.47 L1184.4,187.67 L1184.9,187.49 L1185.4,186.88 L1185.9,186.71 L1186.9,186.85 L1187.9,187.64 L1188.4,187.36 L1188.9,187.87 L1189.4,187.51 L1189.9,187.91 L1190.4,187.18 L1190.9,187.64 L1191.9,187.64 L1192.9,188.11 L1194.4,186.99 L1196.9,187.64 L1197.9,187.23 L1198.9,187.19 L1199.4,187.86 L1199.9,187.45 L1200.4,187.7 L1200.9,187.46 L1202.4,185.99 L1202.9,187.08 L1203.4,186.97 L1203.9,187.52 L1204.4,187.43 L1204.9,188.07 L1206.9,187.33 L1207.9,187.76 L1208.4,187.65 L1209.4,187.01 L1209.9,187.17 L1211.4,186.51 L1212.4,187.07 L1212.9,186.47 L1213.9,186.53 L1214.4,187.45 L1214.9,187.01 L1215.9,186.92 L1216.4,187.58 L1217.4,188.13 L1218.9,187.2 L1219.9,187.51 L1220.9,187.41 L1221.4,186.9 L1221.9,186.84 L1222.9,187.54 L1223.4,188.14 L1225.4,187.31 L1225.9,187.3 L1226.4,186.88 L1227.4,186.95 L1228.4,185.62 L1229.9,182.29 L1230.4,181.92 L1231.9,183.8 L1233.4,185.39 L1233.9,185.67 L1237.4,187.01 L1238.4,187.05 L1238.9,186.61 L1239.4,186.87 L1239.9,186.75 L1240.4,187.31 L1240.9,186.52 L1241.9,186.5 L1243.4,186.68 L1243.9,187.36 L1244.4,187.05 L1245.4,187.1 L1246.4,187.38 L1246.9,187.33 L1247.4,187.59 L1247.9,187.27 L1248.9,187.45 L1249.4,187.88 L1250.4,187.66 L1250.9,187.3 L1252.4,187.65 L1253.4,187.59 L1253.9,186.87 L1254.4,186.76 L1254.9,186.87 L1255.4,187.53 L1255.9,187.29 L1256.4,187.56 L1257.4,187.52 L1257.9,187 L1258.4,187.14 L1259.4,186.94 L1260.9,188.57 L1261.9,188.21 L1262.4,187.47 L1262.9,187.43 L1263.4,187.6 L1263.9,188.18 L1264.4,187.34 L1264.9,187.34 L1265.9,187.97 L1266.9,187.51 L1267.9,187.88 L1268.4,187.69 L1268.9,187.9 L1270.4,186.76 L1271.9,188.68 L1272.4,188.13 L1272.9,188.52 L1273.4,188.31 L1274.9,186.73 L1275.9,187.08 L1277.4,187.09 L1277.9,188.03 L1278.9,187.33 L1279.4,186.47 L1279.9,186.45 L1280.4,186.77 L1280.9,187.83 L1281.4,187.79 L1281.9,188.02 L1282.4,187.58 L1283.4,187.97 L1283.9,187.18 L1284.4,187.29 L1284.9,186.76 L1285.4,188.01 L1286.4,189.07 L1286.9,188.53 L1287.9,188.07 L1288.4,188.17 L1288.9,188 L1290.4,186.91 L1290.9,187.48 L1291.9,187.24 L1292.4,186.79 L1292.9,186.9 L1293.9,187.9 L1294.4,187.84 L1294.9,187.6 L1295.9,186.05 L1296.4,184.8 L1297.4,180.13 L1298.4,167.15 L1299.9,139.01 L1300.4,131.76 L1300.9,128.63 L1301.4,129.63 L1301.9,132.72 L1305.4,170.92 L1306.9,181.21 L1307.4,183.53 L1307.9,184.42 L1308.4,184.63 L1309.9,186.29 L1310.9,186.92 L1311.4,186.64 L1312.4,186.58 L1312.9,186.98 L1314.4,186.08 L1315.4,186.31 L1315.9,185.95 L1316.4,186.39 L1316.9,186.39 L1317.4,186.96 L1318.4,186.5 L1318.9,187.08 L1319.4,186.74 L1319.9,187.59 L1320.4,187.11 L1320.9,187.41 L1321.4,187.27 L1321.9,187.41 L1322.9,186.43 L1323.4,186.43 L1323.9,187.31 L1324.4,187.56 L1324.9,187.72 L1325.4,187.39 L1326.4,187.8 L1326.9,187.36 L1327.4,187.31 L1327.9,186.99 L1328.4,187.32 L1330.4,186.6 L1331.4,188.23 L1331.9,188.53 L1333.9,185.89 L1334.4,186.19 L1334.9,187.33 L1335.4,187.81 L1336.9,186.79 L1337.9,186.69 L1338.9,187.01 L1339.9,186.69 L1341.9,188.32 L1342.4,187.51 L1342.9,187.64 L1343.4,186.72 L1343.9,187.12 L1344.4,187.07 L1345.4,187.88 L1345.9,187.71 L1346.9,186.86 L1347.9,187.24 L1348.9,187.91 L1351.4,187.21 L1351.9,186.88 L1353.9,187.68 L1354.4,187.45 L1355.4,187.9 L1356.4,187.87 L1356.9,187.35 L1357.9,187 L1358.4,186.57 L1358.9,187.26 L1359.4,187.13 L1359.9,187.59 L1360.4,186.52 L1361.9,187.32 L1363.4,186.84 L1364.4,186.98 L1364.9,187.33 L1365.9,187.31 L1366.9,186.77 L1367.4,185.99 L1367.9,184.56 L1369.9,174.83 L1370.4,173.36 L1370.9,172.56 L1371.4,172.2 L1371.9,172.26 L1372.4,173.27 L1373.4,176.69 L1374.4,178.56 L1375.9,182.48 L1376.9,184.21 L1377.4,184.46 L1378.4,186.03 L1378.9,186.45 L1379.4,186.2 L1380.4,187.05 L1381.4,187.59 L1382.9,187.13 L1383.4,187.18 L1383.9,187.57 L1385.4,186.7 L1385.9,186.64 L1386.4,187.3 L1386.9,187.36 L1387.4,187.79 L1388.9,187.16 L1389.9,187.33 L1390.4,186.68 L1391.4,186.58 L1391.9,187.28 L1392.4,186.67 L1392.9,186.93 L1393.4,186.6 L1394.4,186.69 L1395.4,187.21 L1395.9,186.96 L1396.4,186.97 L1396.9,186.65 L1397.4,187.11 L1397.9,187.19 L1398.4,188.12 L1398.9,188.21 L1399.4,188.18 L1400.9,187.11 L1402.4,187.85 L1402.9,187.15 L1403.9,187.63 L1404.9,187.4 L1405.9,188.08 L1406.4,188.01 L1406.9,187.39 L1407.4,187.22 L1407.9,187.41 L1408.4,188.35 L1408.9,188.55 L1409.9,187.61 L1410.4,187.5 L1411.4,187.74 L1412.9,186.82 L1414.4,188.03 L1414.9,187.44 L1415.4,187.5 L1415.9,186.99 L1416.4,187.39 L1417.9,187.16 L1418.4,186.76 L1418.9,187.1 L1419.4,186.93 L1420.9,187.15 L1421.4,187.59 L1421.9,187.36 L1422.4,187.77 L1424.4,186.84 L1425.4,187 L1425.9,187.72 L1426.4,187.7 L1426.9,188.2 L1427.9,187.59 L1428.4,186.55 L1428.9,186.61 L1429.4,186.43 L1429.9,187.24 L1430.4,187.33 L1430.9,187.97 L1431.9,187.38 L1433.9,187.07 L1434.4,187.45 L1435.4,187.55 L1435.9,186.82 L1436.4,186.61 L1436.9,185.81 L1438.4,184.93 L1439.9,182.33 L1440.9,182.24 L1441.4,182.68 L1441.9,182.23 L1442.4,182.22 L1442.9,182.77 L1443.9,185.39 L1445.4,186.16 L1446.4,187.64 L1447.4,187.56 L1449.4,186.81 L1450.4,187.34 L1451.4,187.52 L1451.9,187.19 L1452.4,187.56 L1452.9,186.74 L1453.4,186.82 L1453.9,186.63 L1454.9,187.41 L1455.4,187.42 L1455.9,188.06 L1456.9,188.16 L1457.9,187.23 L1458.9,186.92 L1459.4,187.28 L1459.9,187.21 L1460.4,188.15 L1460.9,187.66 L1461.4,188.1 L1461.9,187.16 L1462.4,187.52 L1463.4,187.58 L1466.4,186.62 L1468.4,187.53 L1468.9,187.98 L1469.4,188.01 L1469.9,187.93 L1470.4,187.41 L1470.9,187.27 L1472.4,186.02 L1472.9,187.16 L1473.9,187.83 L1474.4,187.13 L1475.4,187.52 L1475.9,188.13 L1476.4,188.07 L1476.9,188.51 L1477.4,188.02 L1477.9,187.91 L1478.4,187.35 L1478.9,187.34 L1479.4,186.78 L1480.4,186.53 L1482.4,188.12 L1482.9,188.03 L1483.4,188.2 L1483.9,188.14 L1485.4,187.37 L1486.4,187.49 L1486.9,188.16 L1487.4,188.04 L1487.9,188.18 L1488.4,187.82 L1488.9,187.86 L1489.4,187.47 L1489.9,187.35 L1490.4,187.67 L1491.4,187.06 L1491.9,186.97 L1492.9,187.85 L1493.4,188.02 L1493.9,188.08 L1494.4,187.61 L1495.4,187.21 L1495.9,187.75 L1496.9,187.85 L1497.4,187.62 L1497.9,188.13 L1498.4,187.41 L1498.9,187.37 L1499.4,187.47 L1499.9,188.12 L1501.4,186.56 L1501.9,186.87" fill="none" stroke="#000" stroke-width="3.4" stroke-linejoin="round" stroke-linecap="butt" />
<text x="1532.7" y="197.5" font-size="33.4" stroke="#000" stroke-width="0.8" stroke-linejoin="round">CIP/mBBr/NaBD<tspan font-size="24" dy="7">4</tspan></text>
<text x="1532.7" y="329.5" font-size="33.4" stroke="#000" stroke-width="0.8" stroke-linejoin="round">CIP/mBBr/NaBH<tspan font-size="24" dy="7">4</tspan></text>
<text x="1532.7" y="464.5" font-size="33.4" stroke="#000" stroke-width="0.8" stroke-linejoin="round">CIP/mBBr</text>
<text x="1253.6" y="59.5" font-size="34" stroke="#000" stroke-width="0.8" stroke-linejoin="round">[M+H]<tspan font-size="24" dy="-13">+</tspan></text>
<text id="t4" x="1237" y="98" font-size="33" textLength="140" lengthAdjust="spacingAndGlyphs" stroke="#000" stroke-width="0.8" stroke-linejoin="round">469.1581</text>
<rect x="1302.99" y="93.53" width="7.27" height="6.68" fill="#fff"/><rect x="1314.21" y="93.53" width="6.26" height="6.68" fill="#fff"/><rect x="1359" y="93.53" width="7.26" height="6.68" fill="#fff"/><rect x="1370.21" y="93.53" width="6.25" height="6.68" fill="#fff"/>
<text x="1086.1" y="236" font-size="34" stroke="#000" stroke-width="0.8" stroke-linejoin="round">[M+H]<tspan font-size="24" dy="-13">+</tspan></text>
<text id="t5" x="1069" y="274" font-size="33" textLength="139" lengthAdjust="spacingAndGlyphs" stroke="#000" stroke-width="0.8" stroke-linejoin="round">468.1494</text>
<rect x="1134.52" y="269.52" width="7.21" height="6.68" fill="#fff"/><rect x="1145.67" y="269.52" width="6.21" height="6.68" fill="#fff"/>
<text x="1123.6" y="364.2" font-size="34" stroke="#000" stroke-width="0.8" stroke-linejoin="round">[M+H]<tspan font-size="24" dy="-13">+</tspan></text>
<text id="t6" x="1106" y="402.2" font-size="33" textLength="139.5" lengthAdjust="spacingAndGlyphs" stroke="#000" stroke-width="0.8" stroke-linejoin="round">466.1338</text>
<rect x="1171.76" y="397.73" width="7.24" height="6.68" fill="#fff"/><rect x="1182.94" y="397.73" width="6.23" height="6.68" fill="#fff"/>
<line x1="1408.6" y1="65.5" x2="1484.5" y2="65.5" stroke="#000" stroke-width="2.0" stroke-linecap="butt"/>
<path d="M1395.3,65.5 L1413.3,59.9 L1409.1,65.5 L1413.3,71.1 Z" fill="#000"/>
<line x1="1268.1" y1="264" x2="1344" y2="264" stroke="#000" stroke-width="2.0" stroke-linecap="butt"/>
<path d="M1254.8,264 L1272.8,258.4 L1268.6,264 L1272.8,269.6 Z" fill="#000"/>
<line x1="1268.1" y1="368" x2="1344" y2="368" stroke="#000" stroke-width="2.0" stroke-linecap="butt"/>
<path d="M1254.8,368 L1272.8,362.4 L1268.6,368 L1272.8,373.6 Z" fill="#000"/>
<text x="1496" y="72" font-size="33.4" stroke="#000" stroke-width="0.8" stroke-linejoin="round">[4'-D]-</text>
<text x="1587.5" y="71.8" font-size="44.2" font-weight="bold" textLength="47.5" lengthAdjust="spacingAndGlyphs" stroke="#000" stroke-width="0.5" stroke-linejoin="round">15</text>
<rect x="1588.78" y="65.66" width="8.3" height="7.84" fill="#fff"/>
<rect x="1603.55" y="65.66" width="7.45" height="7.84" fill="#fff"/>
<text x="1347.5" y="275.8" font-size="44.2" font-weight="bold" textLength="47.5" lengthAdjust="spacingAndGlyphs" stroke="#000" stroke-width="0.5" stroke-linejoin="round">15</text>
<rect x="1348.78" y="269.66" width="8.3" height="7.84" fill="#fff"/>
<rect x="1363.55" y="269.66" width="7.45" height="7.84" fill="#fff"/>
<text x="1353" y="379.8" font-size="44.2" font-weight="bold" textLength="46.4" lengthAdjust="spacingAndGlyphs" stroke="#000" stroke-width="0.5" stroke-linejoin="round">14</text>
<rect x="1354.25" y="373.66" width="8.1" height="7.84" fill="#fff"/>
<rect x="1368.68" y="373.66" width="7.27" height="7.84" fill="#fff"/>
<text x="1399.5" y="380" font-size="33.4" stroke="#000" stroke-width="0.8" stroke-linejoin="round">-bimane</text>
</g>
<g id="panel-c">
<text x="2.8" y="597.6" font-size="43" font-weight="bold" stroke="#000" stroke-width="0.25" stroke-linejoin="round">(c)</text>
<line x1="147.1" y1="628.8" x2="147.1" y2="1127.6" stroke="#000" stroke-width="2.8" stroke-linecap="butt"/>
<line x1="137.5" y1="1126.2" x2="424" y2="1126.2" stroke="#000" stroke-width="3.4" stroke-linecap="butt"/>
<text transform="translate(120.2,1139.2) scale(0.895,1)" font-size="28.4" text-anchor="end" stroke="#000" stroke-width="0.8" stroke-linejoin="round">0</text>
<line x1="137.5" y1="1064.2" x2="147.1" y2="1064.2" stroke="#000" stroke-width="2.8" stroke-linecap="butt"/>
<text transform="translate(120.2,1077.2) scale(0.895,1)" font-size="28.4" text-anchor="end" stroke="#000" stroke-width="0.8" stroke-linejoin="round">0.5</text>
<line x1="137.5" y1="1002.2" x2="147.1" y2="1002.2" stroke="#000" stroke-width="2.8" stroke-linecap="butt"/>
<text transform="translate(120.2,1015.2) scale(0.895,1)" font-size="28.4" text-anchor="end" stroke="#000" stroke-width="0.8" stroke-linejoin="round">1</text>
<line x1="137.5" y1="940.2" x2="147.1" y2="940.2" stroke="#000" stroke-width="2.8" stroke-linecap="butt"/>
<text transform="translate(120.2,953.2) scale(0.895,1)" font-size="28.4" text-anchor="end" stroke="#000" stroke-width="0.8" stroke-linejoin="round">1.5</text>
<line x1="137.5" y1="878.2" x2="147.1" y2="878.2" stroke="#000" stroke-width="2.8" stroke-linecap="butt"/>
<text transform="translate(120.2,891.2) scale(0.895,1)" font-size="28.4" text-anchor="end" stroke="#000" stroke-width="0.8" stroke-linejoin="round">2</text>
<line x1="137.5" y1="816.2" x2="147.1" y2="816.2" stroke="#000" stroke-width="2.8" stroke-linecap="butt"/>
<text transform="translate(120.2,829.2) scale(0.895,1)" font-size="28.4" text-anchor="end" stroke="#000" stroke-width="0.8" stroke-linejoin="round">2.5</text>
<line x1="137.5" y1="754.2" x2="147.1" y2="754.2" stroke="#000" stroke-width="2.8" stroke-linecap="butt"/>
<text transform="translate(120.2,767.2) scale(0.895,1)" font-size="28.4" text-anchor="end" stroke="#000" stroke-width="0.8" stroke-linejoin="round">3</text>
<line x1="137.5" y1="692.2" x2="147.1" y2="692.2" stroke="#000" stroke-width="2.8" stroke-linecap="butt"/>
<text transform="translate(120.2,705.2) scale(0.895,1)" font-size="28.4" text-anchor="end" stroke="#000" stroke-width="0.8" stroke-linejoin="round">3.5</text>
<line x1="137.5" y1="630.2" x2="147.1" y2="630.2" stroke="#000" stroke-width="2.8" stroke-linecap="butt"/>
<text transform="translate(120.2,643.2) scale(0.895,1)" font-size="28.4" text-anchor="end" stroke="#000" stroke-width="0.8" stroke-linejoin="round">4</text>
<line x1="146.6" y1="1126.2" x2="146.6" y2="1135.5" stroke="#000" stroke-width="2.8" stroke-linecap="butt"/>
<text transform="translate(146.8,1173) scale(0.895,1)" font-size="28.4" text-anchor="middle" stroke="#000" stroke-width="0.8" stroke-linejoin="round">251</text>
<line x1="202.3" y1="1126.2" x2="202.3" y2="1135.5" stroke="#000" stroke-width="2.8" stroke-linecap="butt"/>
<text transform="translate(202,1173) scale(0.895,1)" font-size="28.4" text-anchor="middle" stroke="#000" stroke-width="0.8" stroke-linejoin="round">252</text>
<line x1="257.5" y1="1126.2" x2="257.5" y2="1135.5" stroke="#000" stroke-width="2.8" stroke-linecap="butt"/>
<text transform="translate(257.2,1173) scale(0.895,1)" font-size="28.4" text-anchor="middle" stroke="#000" stroke-width="0.8" stroke-linejoin="round">253</text>
<line x1="312.7" y1="1126.2" x2="312.7" y2="1135.5" stroke="#000" stroke-width="2.8" stroke-linecap="butt"/>
<text transform="translate(312.4,1173) scale(0.895,1)" font-size="28.4" text-anchor="middle" stroke="#000" stroke-width="0.8" stroke-linejoin="round">254</text>
<line x1="367.9" y1="1126.2" x2="367.9" y2="1135.5" stroke="#000" stroke-width="2.8" stroke-linecap="butt"/>
<text transform="translate(367.6,1173) scale(0.895,1)" font-size="28.4" text-anchor="middle" stroke="#000" stroke-width="0.8" stroke-linejoin="round">255</text>
<line x1="423.1" y1="1126.2" x2="423.1" y2="1135.5" stroke="#000" stroke-width="2.8" stroke-linecap="butt"/>
<text transform="translate(422.8,1173) scale(0.895,1)" font-size="28.4" text-anchor="middle" stroke="#000" stroke-width="0.8" stroke-linejoin="round">256</text>
<text x="264.5" y="1218.6" font-size="33" font-style="italic" textLength="73.5" lengthAdjust="spacingAndGlyphs" stroke="#000" stroke-width="0.8" stroke-linejoin="round">m / z</text>
<g transform="translate(67,986.8) rotate(-90)"><text id="t7" font-size="33.9" stroke="#000" stroke-width="0.8" stroke-linejoin="round">counts ( x10<tspan font-size="24" dy="-14">5</tspan><tspan dy="14"> )</tspan></text><rect x="147.58" y="-4.54" width="7.34" height="6.74" fill="#fff"/><rect x="158.9" y="-4.54" width="6.32" height="6.74" fill="#fff"/></g>
<path d="M147.1,1126.13 L151.1,1125.87 L153.1,1126.08 L154.3,1125.9 L159.1,1126.09 L161.9,1125.98 L163.1,1126.19 L165.5,1125.84 L166.7,1126.13 L171.1,1125.93 L172.3,1126.06 L173.5,1125.86 L179.1,1126.12 L180.3,1125.88 L181.9,1125.84 L184.3,1126.03 L185.9,1125.84 L186.7,1126.06 L188.3,1126.08 L190.3,1125.88 L193.9,1126.04 L195.1,1125.84 L196.3,1126.18 L199.1,1126.1 L200.3,1125.82 L201.5,1126.07 L204.7,1125.98 L205.1,1125.15 L205.5,1122.17 L205.9,1113.24 L207.5,1005.56 L207.9,1008.08 L208.3,1018.63 L209.9,1086.99 L210.7,1108.96 L211.1,1115.2 L211.9,1121.55 L212.7,1123.63 L214.3,1124.88 L215.9,1125.59 L217.1,1125.45 L218.3,1125.78 L221.1,1126.01 L225.5,1125.88 L226.7,1126.07 L227.5,1125.86 L230.7,1125.89 L232.3,1126.1 L233.5,1125.95 L235.5,1126.15 L237.9,1126 L241.5,1126.12 L242.7,1125.89 L244.3,1126.02 L245.5,1125.86 L247.9,1126.03 L250.7,1125.91 L251.9,1126.12 L253.9,1125.86 L255.1,1126.1 L256.3,1125.78 L257.9,1126.03 L260.3,1125.96 L260.7,1125.84 L261.1,1125.17 L261.5,1123.43 L262.7,1111.91 L263.1,1111.05 L263.9,1113.86 L265.1,1120.51 L265.9,1123.61 L266.3,1124.56 L267.1,1125.61 L269.1,1125.98 L271.9,1125.74 L273.1,1126.06 L275.5,1125.86 L276.7,1126.05 L277.9,1125.84 L281.1,1126.09 L283.1,1125.91 L284.3,1126.13 L285.9,1125.91 L287.9,1126.19 L292.3,1125.85 L293.9,1125.95 L294.7,1126.19 L297.9,1125.91 L301.5,1126.12 L302.7,1125.97 L303.9,1126.11 L304.7,1125.94 L305.9,1126.16 L307.1,1125.88 L308.3,1126.13 L309.9,1125.92 L311.5,1126.13 L315.9,1125.99 L317.1,1125.16 L318.3,1124.71 L321.5,1126.07 L322.3,1125.86 L323.5,1126.04 L324.7,1125.91 L326.3,1126.08 L328.7,1125.92 L329.9,1126.04 L331.5,1125.8 L333.1,1126.08 L340.3,1125.91 L342.7,1126.13 L343.5,1125.99 L344.7,1126.19 L346.3,1125.81 L347.5,1126.11 L348.7,1126.01 L350.3,1126.19 L353.5,1125.99 L357.1,1126.19 L359.5,1125.83 L368.3,1126.03 L369.9,1125.76 L370.7,1125.23 L371.5,1123.62 L372.7,1119.83 L373.1,1119.34 L373.5,1119.53 L373.9,1120.11 L375.9,1124.32 L376.7,1125.38 L378.7,1125.97 L381.1,1125.79 L382.3,1126.19 L383.5,1125.96 L387.5,1126.12 L388.7,1125.84 L390.7,1126.12 L393.5,1125.87 L394.7,1126.1 L396.7,1126.06 L398.7,1125.78 L399.1,1125.94 L400.3,1125.87 L402.3,1126.14 L403.1,1125.84 L404.3,1126.04 L405.5,1125.86 L407.1,1126.12 L408.7,1126.08 L409.9,1125.85 L413.9,1126.15 L417.9,1125.93 L423.9,1126.01" fill="none" stroke="#000" stroke-width="2.7" stroke-linejoin="round" stroke-linecap="butt" />
<path d="M147.1,1002 L203.9,1002 L204.7,1001.87 L205.1,1001.3 L205.5,999.07 L205.9,992.38 L206.3,977.43 L207.5,910.72 L207.9,912.69 L208.3,920.76 L209.9,972.41 L210.7,989.11 L211.1,993.85 L211.9,998.6 L212.7,1000.22 L213.9,1001.01 L216.7,1001.65 L221.5,1001.94 L260.3,1001.96 L260.7,1001.82 L261.1,1001.31 L261.5,1000.02 L262.7,991.28 L263.1,990.56 L263.9,992.62 L265.1,997.88 L265.9,1000.27 L266.7,1001.37 L267.5,1001.75 L268.3,1001.87 L314.7,1001.99 L315.9,1001.86 L317.9,1000.71 L318.7,1000.83 L321.1,1001.85 L323.1,1002 L369.9,1001.99 L371.1,1001.8 L372.7,1000.85 L373.1,1000.8 L375.9,1001.81 L377.5,1001.99 L423.9,1002" fill="none" stroke="#000" stroke-width="2.7" stroke-linejoin="round" stroke-linecap="butt" />
<path d="M147.1,877.8 L203.9,877.74 L204.7,877.43 L205.5,876.33 L207.1,871.57 L207.5,871.02 L207.9,871.14 L208.3,871.58 L210.3,875.52 L211.1,876.64 L211.9,877.27 L213.1,877.62 L220.3,877.79 L259.1,877.8 L259.9,877.75 L260.3,877.48 L260.7,876.27 L261.1,872.12 L261.5,861.37 L262.7,788.97 L263.1,783.07 L263.9,799.44 L265.1,841.15 L265.9,861.13 L266.3,867.17 L267.1,873.48 L267.9,875.68 L268.7,876.47 L269.9,876.98 L271.5,877.35 L276.3,877.72 L315.5,877.7 L315.9,877.37 L316.3,876.39 L316.7,874.19 L317.9,864.41 L318.3,864.68 L318.7,865.92 L320.7,875.22 L321.5,876.84 L322.3,877.44 L323.1,877.62 L330.3,877.79 L369.1,877.78 L369.9,877.66 L370.7,877.19 L372.3,874.59 L372.7,874.12 L373.1,874.01 L373.9,874.41 L376.7,877.05 L377.9,877.53 L379.1,877.7 L423.9,877.8" fill="none" stroke="#000" stroke-width="2.7" stroke-linejoin="round" stroke-linecap="butt" />
<path d="M147.1,753.5 L203.9,753.5 L204.7,753.36 L205.1,752.77 L205.5,750.42 L205.9,743.41 L206.3,727.73 L207.5,657.75 L207.9,659.82 L208.3,668.28 L209.9,722.46 L210.7,739.98 L211.1,744.95 L211.9,749.93 L212.7,751.63 L213.9,752.46 L216.7,753.14 L221.5,753.44 L260.3,753.46 L260.7,753.3 L261.1,752.76 L261.5,751.34 L262.7,741.85 L263.1,741.06 L263.9,743.31 L265.1,749.02 L265.9,751.61 L266.7,752.81 L267.5,753.23 L268.3,753.35 L314.7,753.49 L315.9,753.33 L317.9,752.01 L318.7,752.15 L320.7,753.2 L322.7,753.49 L369.1,753.5 L370.7,753.2 L371.9,752.25 L372.7,752.01 L375.1,753.17 L377.1,753.49 L423.9,753.5" fill="none" stroke="#000" stroke-width="2.7" stroke-linejoin="round" stroke-linecap="butt" />
<text x="443.2" y="768" font-size="33.8" stroke="#000" stroke-width="0.8" stroke-linejoin="round">[5',5'-D<tspan font-size="24" dy="6.5">2</tspan><tspan dy="-6.5">]CDP</tspan></text>
<text x="441.3" y="894.5" font-size="33.8" stroke="#000" stroke-width="0.8" stroke-linejoin="round">[4'-D]CDP</text>
<text x="443" y="1012" font-size="33.8" stroke="#000" stroke-width="0.8" stroke-linejoin="round">[3'-D]CDP</text>
<text x="454" y="1138" font-size="33.8" stroke="#000" stroke-width="0.8" stroke-linejoin="round">CDP</text>
</g>
<g id="panel-d">
<text x="665.3" y="597.6" font-size="43" font-weight="bold" stroke="#000" stroke-width="0.25" stroke-linejoin="round">(d)</text>
<line x1="803.2" y1="632.8" x2="803.2" y2="1129.6" stroke="#000" stroke-width="2.8" stroke-linecap="butt"/>
<line x1="794" y1="1128.2" x2="1073" y2="1128.2" stroke="#000" stroke-width="3.4" stroke-linecap="butt"/>
<text transform="translate(776.2,1141.2) scale(0.895,1)" font-size="28.4" text-anchor="end" stroke="#000" stroke-width="0.8" stroke-linejoin="round">0</text>
<line x1="794" y1="1066.4" x2="803.2" y2="1066.4" stroke="#000" stroke-width="2.8" stroke-linecap="butt"/>
<text transform="translate(776.2,1079.4) scale(0.895,1)" font-size="28.4" text-anchor="end" stroke="#000" stroke-width="0.8" stroke-linejoin="round">0.5</text>
<line x1="794" y1="1004.6" x2="803.2" y2="1004.6" stroke="#000" stroke-width="2.8" stroke-linecap="butt"/>
<text transform="translate(776.2,1017.6) scale(0.895,1)" font-size="28.4" text-anchor="end" stroke="#000" stroke-width="0.8" stroke-linejoin="round">1</text>
<line x1="794" y1="942.8" x2="803.2" y2="942.8" stroke="#000" stroke-width="2.8" stroke-linecap="butt"/>
<text transform="translate(776.2,955.8) scale(0.895,1)" font-size="28.4" text-anchor="end" stroke="#000" stroke-width="0.8" stroke-linejoin="round">1.5</text>
<line x1="794" y1="881" x2="803.2" y2="881" stroke="#000" stroke-width="2.8" stroke-linecap="butt"/>
<text transform="translate(776.2,894) scale(0.895,1)" font-size="28.4" text-anchor="end" stroke="#000" stroke-width="0.8" stroke-linejoin="round">2</text>
<line x1="794" y1="819.2" x2="803.2" y2="819.2" stroke="#000" stroke-width="2.8" stroke-linecap="butt"/>
<text transform="translate(776.2,832.2) scale(0.895,1)" font-size="28.4" text-anchor="end" stroke="#000" stroke-width="0.8" stroke-linejoin="round">2.5</text>
<line x1="794" y1="757.4" x2="803.2" y2="757.4" stroke="#000" stroke-width="2.8" stroke-linecap="butt"/>
<text transform="translate(776.2,770.4) scale(0.895,1)" font-size="28.4" text-anchor="end" stroke="#000" stroke-width="0.8" stroke-linejoin="round">3</text>
<line x1="794" y1="695.6" x2="803.2" y2="695.6" stroke="#000" stroke-width="2.8" stroke-linecap="butt"/>
<text transform="translate(776.2,708.6) scale(0.895,1)" font-size="28.4" text-anchor="end" stroke="#000" stroke-width="0.8" stroke-linejoin="round">3.5</text>
<line x1="794" y1="633.8" x2="803.2" y2="633.8" stroke="#000" stroke-width="2.8" stroke-linecap="butt"/>
<text transform="translate(776.2,646.8) scale(0.895,1)" font-size="28.4" text-anchor="end" stroke="#000" stroke-width="0.8" stroke-linejoin="round">4</text>
<line x1="802.8" y1="1128.2" x2="802.8" y2="1137.5" stroke="#000" stroke-width="2.8" stroke-linecap="butt"/>
<text transform="translate(802.9,1175) scale(0.895,1)" font-size="28.4" text-anchor="middle" stroke="#000" stroke-width="0.8" stroke-linejoin="round">275</text>
<line x1="856.92" y1="1128.2" x2="856.92" y2="1137.5" stroke="#000" stroke-width="2.8" stroke-linecap="butt"/>
<text transform="translate(856.62,1175) scale(0.895,1)" font-size="28.4" text-anchor="middle" stroke="#000" stroke-width="0.8" stroke-linejoin="round">276</text>
<line x1="910.64" y1="1128.2" x2="910.64" y2="1137.5" stroke="#000" stroke-width="2.8" stroke-linecap="butt"/>
<text transform="translate(910.34,1175) scale(0.895,1)" font-size="28.4" text-anchor="middle" stroke="#000" stroke-width="0.8" stroke-linejoin="round">277</text>
<line x1="964.36" y1="1128.2" x2="964.36" y2="1137.5" stroke="#000" stroke-width="2.8" stroke-linecap="butt"/>
<text transform="translate(964.06,1175) scale(0.895,1)" font-size="28.4" text-anchor="middle" stroke="#000" stroke-width="0.8" stroke-linejoin="round">278</text>
<line x1="1018.08" y1="1128.2" x2="1018.08" y2="1137.5" stroke="#000" stroke-width="2.8" stroke-linecap="butt"/>
<text transform="translate(1017.78,1175) scale(0.895,1)" font-size="28.4" text-anchor="middle" stroke="#000" stroke-width="0.8" stroke-linejoin="round">279</text>
<line x1="1071.8" y1="1128.2" x2="1071.8" y2="1137.5" stroke="#000" stroke-width="2.8" stroke-linecap="butt"/>
<text transform="translate(1071.5,1175) scale(0.895,1)" font-size="28.4" text-anchor="middle" stroke="#000" stroke-width="0.8" stroke-linejoin="round">280</text>
<text x="912.8" y="1218.4" font-size="33" font-style="italic" textLength="73" lengthAdjust="spacingAndGlyphs" stroke="#000" stroke-width="0.8" stroke-linejoin="round">m / z</text>
<g transform="translate(717.5,989.3) rotate(-90)"><text id="t8" font-size="33.9" stroke="#000" stroke-width="0.8" stroke-linejoin="round">counts ( x10<tspan font-size="24" dy="-14">5</tspan><tspan dy="14"> )</tspan></text><rect x="147.58" y="-4.54" width="7.34" height="6.74" fill="#fff"/><rect x="158.9" y="-4.54" width="6.32" height="6.74" fill="#fff"/></g>
<path d="M803.2,1127.91 L804.4,1128.07 L806,1127.92 L807.6,1128.18 L817.6,1127.87 L823.2,1128.07 L828,1127.91 L831.6,1128.1 L833.2,1127.94 L834.4,1128.1 L841.2,1127.96 L842,1128.19 L843.2,1127.97 L848,1128.11 L849.2,1127.79 L850.4,1128.16 L852.4,1127.74 L856.8,1128.13 L857.6,1127.7 L858,1126.35 L858.4,1121.73 L858.8,1109.65 L860,1028.4 L860.4,1021.7 L861.2,1040 L862.4,1086.87 L863.2,1109.48 L863.6,1116.25 L864.4,1123.12 L865.2,1125.57 L865.6,1126.15 L866.4,1126.77 L870,1127.75 L873.2,1128.02 L876,1127.82 L877.2,1127.99 L879.2,1127.92 L880,1128.12 L881.6,1127.94 L884,1128.09 L885.6,1127.85 L886.8,1128.02 L887.6,1127.89 L892,1128.07 L893.6,1127.85 L894.8,1128.05 L898,1128.14 L902,1127.88 L903.2,1128.01 L904.8,1127.8 L906.4,1128.1 L908.8,1127.88 L910,1128.06 L911.6,1127.85 L912,1127.38 L912.4,1126.06 L913.6,1116.88 L914,1116.14 L914.8,1118.3 L916,1123.79 L916.8,1126.2 L917.6,1127.41 L918.4,1127.75 L919.6,1127.92 L921.2,1127.83 L922,1128.03 L922.8,1127.89 L924.4,1128.04 L927.2,1127.91 L928.8,1128.12 L930,1127.95 L933.6,1127.94 L936.4,1128.09 L938.4,1127.8 L941.2,1128.06 L942.4,1127.78 L944.8,1128.15 L946.4,1127.98 L948.8,1128.08 L955.6,1127.87 L956.4,1128.1 L958,1127.91 L959.6,1128.11 L961.6,1127.98 L964.8,1128.12 L965.2,1127.94 L965.6,1127.3 L966.8,1122.7 L967.2,1122 L968,1123 L970,1127.05 L971.2,1127.84 L973.2,1128.1 L974.4,1127.81 L978.4,1128.22 L979.6,1128.01 L985.2,1128.07 L986.4,1127.87 L987.6,1128.08 L993.2,1128.01 L994,1128.15 L995.2,1127.78 L995.6,1127.93 L1000.8,1127.93 L1001.2,1128.07 L1002.4,1127.88 L1003.6,1128.07 L1004.4,1127.89 L1005.2,1128.04 L1012.4,1127.9 L1013.2,1128.08 L1016,1128.06 L1016.4,1127.9 L1019.2,1127.77 L1020.8,1126.91 L1021.6,1127.02 L1024,1127.86 L1026.8,1128.1 L1030,1127.88 L1032,1128.14 L1033.2,1128 L1034,1128.22 L1037.2,1127.84 L1038.4,1128.09 L1038.8,1127.91 L1040,1128.02 L1040.8,1127.82 L1041.6,1127.96 L1042.8,1127.83 L1044,1128.06 L1049.6,1127.86 L1050.8,1128.06 L1052,1127.84 L1053.6,1128.09 L1056.8,1128.01 L1058,1127.73 L1059.2,1128.1 L1061.2,1127.96 L1064,1128.12 L1065.2,1127.82 L1068,1128.01 L1069.2,1127.81 L1072.4,1128.12" fill="none" stroke="#000" stroke-width="2.7" stroke-linejoin="round" stroke-linecap="butt" />
<path d="M803.2,1005.13 L804.4,1005.28 L806.8,1005.03 L808,1005.33 L809.2,1005.01 L812,1005.32 L814.4,1005.07 L815.6,1005.3 L817.6,1005.1 L820.4,1005.25 L821.6,1005.1 L822.8,1005.41 L827.2,1005.22 L828.4,1004.97 L829.2,1005.33 L831.2,1005.07 L832,1005.26 L833.2,1004.92 L834.4,1005.23 L835.6,1005.11 L837.2,1005.32 L838.4,1004.9 L839.6,1005.29 L840,1005.17 L840.8,1005.42 L842,1005.13 L844.4,1005.36 L845.6,1005.09 L848.4,1005.17 L848.8,1005.32 L851.2,1005.19 L852.4,1005.36 L856,1004.96 L857.2,1005.26 L858.4,1004.24 L859.6,1002.73 L860.4,1002.07 L861.2,1002.53 L863.6,1004.87 L865.6,1005.25 L866.8,1005.29 L868,1004.99 L871.2,1005.26 L873.2,1005.07 L874.4,1005.28 L876,1005.05 L877.2,1005.4 L878,1005.1 L880,1005.01 L881.2,1005.26 L885.2,1005.09 L886.8,1005.38 L890.4,1005.02 L891.6,1005.35 L895.6,1005.14 L897.6,1005.31 L898.8,1005.09 L900.8,1005.4 L902.4,1005.06 L904,1005.34 L905.6,1005.14 L907.6,1005.26 L908.8,1005.05 L910.4,1005.36 L911.2,1005.3 L911.6,1004.88 L912,1003.52 L912.4,998.48 L912.8,985.45 L914,898.5 L914.4,891.46 L915.2,911.07 L916.4,961.17 L917.2,985.16 L917.6,992.4 L918.4,999.97 L919.2,1002.6 L920.4,1004.01 L921.2,1004.51 L924,1004.87 L925.2,1004.74 L926.4,1005.14 L928,1005.24 L931.2,1005.07 L933.2,1005.46 L937.2,1005.12 L940.8,1005.4 L943.2,1005.04 L944.4,1005.32 L946,1005.09 L946.8,1005.24 L948,1005.05 L949.2,1005.26 L952.8,1005.25 L955.2,1004.99 L956,1005.22 L958.4,1005.34 L960,1005.05 L962.4,1005.3 L963.6,1005.14 L964.8,1005.28 L965.6,1005.06 L966,1004.61 L966.4,1003.41 L967.6,992.44 L968,990.7 L968.4,991.29 L968.8,992.76 L970,999.43 L970.8,1002.65 L971.6,1004.28 L972.4,1004.91 L973.2,1005.11 L974.4,1004.85 L975.2,1005.12 L976,1005.02 L978.4,1005.4 L981.2,1005.11 L982.4,1005.26 L984.4,1005.18 L986,1004.91 L987.2,1005.32 L989.6,1005.03 L990.8,1005.28 L991.2,1005.18 L991.6,1005.39 L994,1005.24 L995.2,1005.35 L996,1005.11 L998.8,1005.34 L1000.4,1005.14 L1001.6,1005.33 L1004,1005.11 L1006,1005.23 L1010,1005.06 L1011.6,1005.27 L1013.6,1004.99 L1014.8,1005.28 L1018,1005.23 L1018.8,1004.92 L1019.6,1003.89 L1021.2,999.93 L1021.6,999.35 L1022,999.32 L1022.8,999.77 L1025.2,1003.66 L1026.8,1004.87 L1027.2,1004.95 L1029.2,1004.99 L1030.8,1005.33 L1031.2,1005.17 L1032.4,1005.28 L1034,1005.07 L1035.6,1005.3 L1036.8,1005.12 L1040.4,1005.3 L1042.8,1005.14 L1044,1005.37 L1045.2,1005.08 L1046.8,1005.25 L1049.6,1005.15 L1050.8,1005.52 L1054.4,1005.12 L1057.6,1005.31 L1058.8,1005.03 L1060.4,1005.26 L1061.6,1005.15 L1062,1005.35 L1068,1005.05 L1069.2,1005.42 L1071.2,1005.09 L1072.4,1005.26" fill="none" stroke="#000" stroke-width="2.7" stroke-linejoin="round" stroke-linecap="butt" />
<path d="M803.2,881.3 L856.8,881.3 L857.6,881.19 L858,880.69 L858.4,878.58 L858.8,871.81 L859.2,855.5 L860.4,765.67 L860.8,763.88 L861.2,772.78 L862.8,839.27 L863.6,862.61 L864,869.44 L864.8,876.42 L865.6,878.83 L866.8,879.96 L869.6,880.83 L874.4,881.22 L911.6,881.25 L912,881.08 L912.4,880.48 L912.8,878.92 L914,868.44 L914.4,867.57 L915.2,870.05 L916.4,876.36 L917.2,879.22 L918,880.54 L918.8,881 L919.6,881.14 L927.2,881.29 L964.8,881.29 L965.6,881 L966,880.38 L967.2,875.3 L967.6,874.5 L968,874.81 L968.4,875.53 L969.6,878.63 L970.4,880.14 L971.2,880.88 L972.8,881.22 L1018.4,881.29 L1019.6,881.05 L1021.2,879.87 L1021.6,879.8 L1024.4,881.07 L1026,881.28 L1072.4,881.3" fill="none" stroke="#000" stroke-width="2.7" stroke-linejoin="round" stroke-linecap="butt" />
<path d="M803.2,758.19 L803.6,758.06 L804.8,758.34 L805.6,758.31 L807.6,757.99 L808.8,758.36 L810,758.03 L810.4,758.23 L811.6,758.36 L813.2,758.05 L814.4,758.34 L815.6,758.11 L818.8,758.06 L820,758.29 L821.6,757.95 L823.2,758.1 L824.4,758 L825.6,758.36 L826.4,758.13 L828.4,758.29 L828.8,758.06 L830.4,758.13 L830.8,758.31 L832.4,758.09 L835.6,758.3 L836.8,758.16 L838.8,758.44 L840,758.19 L842,758.25 L842.4,758.09 L843.2,758.37 L844.4,758.1 L846.4,758.07 L848,758.45 L849.6,758.07 L850.8,758.32 L852,758.09 L853.2,758.33 L854,758.02 L855.2,758.26 L856.4,758.03 L857.2,758.09 L860.4,756.77 L862,756.89 L863.6,757.96 L864.8,758.18 L866,758.02 L867.6,758.23 L869.2,757.93 L870.4,758.27 L872.4,758.18 L872.8,758.36 L874,758.23 L875.2,758.39 L876.4,757.98 L878,758.38 L879.6,758.07 L882.8,758.01 L884,758.39 L885.6,758.02 L886.8,758.4 L887.6,758.2 L890,758.13 L891.2,758.28 L894.4,758.08 L895.2,758.13 L895.6,758.36 L897.2,758.1 L898.4,758.46 L899.6,758.01 L902,758.35 L903.6,757.99 L904.8,758.31 L906,758.1 L907.2,758.31 L908,758.06 L911.6,758.21 L912.4,757.24 L912.8,755.78 L914,747.37 L914.4,747.26 L914.8,748.01 L916.4,754.39 L917.2,756.63 L918,757.97 L918.8,758.3 L920.4,758.05 L924.8,758.25 L926,757.92 L927.2,758.29 L928.4,758.32 L929.2,758.09 L930.4,758.27 L933.6,758.28 L934,758.05 L934.8,758.08 L935.2,758.31 L937.2,758.18 L938.4,758.38 L943.2,758.16 L946,758.23 L947.2,757.98 L948.4,758.2 L949.6,758.05 L952.4,758.1 L953.6,758.47 L954.4,758.22 L955.2,758.32 L956.4,758.04 L958.4,758.29 L958.8,758.49 L961.2,758.23 L962,758.33 L962.4,758.15 L963.6,758.41 L965.6,757.92 L966,757.27 L966.4,754.43 L966.8,745.49 L968.4,635.56 L968.8,638.28 L969.2,649.26 L970.8,718.41 L971.6,740.71 L972.4,751.08 L973.2,754.96 L974,756.63 L975.6,757.32 L976.8,757.41 L978,757.91 L979.2,757.85 L980.4,758.11 L981.6,757.94 L982,758.1 L983.6,758.07 L985.6,758.42 L988.4,758.13 L989.6,758.37 L992,758.2 L992.8,758.37 L994,758.09 L994.8,758.32 L997.2,758.5 L999.2,757.94 L1000,758.28 L1001.6,758.41 L1002.8,757.97 L1003.6,758.18 L1004.8,758.06 L1006,758.28 L1008,757.9 L1008.4,758.17 L1009.6,758.11 L1011.6,758.35 L1012.8,757.96 L1014.8,758.36 L1016,758.05 L1019.2,758.32 L1020,758.03 L1020.8,756.54 L1022.4,742 L1022.8,742.35 L1023.2,743.85 L1025.2,755.18 L1026,757.08 L1027.2,757.95 L1029.6,757.91 L1030,758.09 L1032,758.17 L1033.2,758.03 L1034.4,758.35 L1036,758.24 L1036.4,758.47 L1037.6,758.03 L1038,758.25 L1038.8,758.17 L1039.6,758.39 L1040.4,758.14 L1041.6,758.29 L1042.8,758.07 L1044.4,758.32 L1048,757.91 L1049.6,757.93 L1050.8,758.28 L1053.2,758.03 L1054.4,758.39 L1055.6,758.05 L1056.8,758.36 L1058.8,758.05 L1060,758.42 L1060.8,758.14 L1062.4,758.05 L1063.2,758.39 L1064.4,758.21 L1066.4,758.32 L1067.2,758.13 L1068.4,758.34 L1069.6,758.14 L1070.8,758.41 L1072.4,758.35" fill="none" stroke="#000" stroke-width="2.7" stroke-linejoin="round" stroke-linecap="butt" />
<text x="1086.3" y="768" font-size="33.8" stroke="#000" stroke-width="0.8" stroke-linejoin="round">[5',5'-D<tspan font-size="24" dy="6.5">2</tspan><tspan dy="-6.5">]CDP</tspan></text>
<text x="1088.3" y="894.5" font-size="33.8" stroke="#000" stroke-width="0.8" stroke-linejoin="round">[4'-D]CDP</text>
<text x="1091" y="1012" font-size="33.8" stroke="#000" stroke-width="0.8" stroke-linejoin="round">[3'-D]CDP</text>
<text x="1090" y="1138" font-size="33.8" stroke="#000" stroke-width="0.8" stroke-linejoin="round">CDP</text>
</g>
<g id="panel-e">
<text x="1308.3" y="696.5" font-size="43" font-weight="bold" stroke="#000" stroke-width="0.25" stroke-linejoin="round">(e)</text>
<line x1="1447.4" y1="780" x2="1447.4" y2="1038.6" stroke="#000" stroke-width="2.8" stroke-linecap="butt"/>
<line x1="1438.7" y1="1037.2" x2="1755.2" y2="1037.2" stroke="#000" stroke-width="2.6" stroke-linecap="butt"/>
<text transform="translate(1423.4,1049.4) scale(0.895,1)" font-size="26.7" text-anchor="end" stroke="#000" stroke-width="0.8" stroke-linejoin="round">0</text>
<line x1="1438.7" y1="973.2" x2="1447.4" y2="973.2" stroke="#000" stroke-width="2.8" stroke-linecap="butt"/>
<text transform="translate(1423.4,985.4) scale(0.895,1)" font-size="26.7" text-anchor="end" stroke="#000" stroke-width="0.8" stroke-linejoin="round">0.2</text>
<line x1="1438.7" y1="909.2" x2="1447.4" y2="909.2" stroke="#000" stroke-width="2.8" stroke-linecap="butt"/>
<text transform="translate(1423.4,921.4) scale(0.895,1)" font-size="26.7" text-anchor="end" stroke="#000" stroke-width="0.8" stroke-linejoin="round">0.4</text>
<line x1="1438.7" y1="845.2" x2="1447.4" y2="845.2" stroke="#000" stroke-width="2.8" stroke-linecap="butt"/>
<text transform="translate(1423.4,857.4) scale(0.895,1)" font-size="26.7" text-anchor="end" stroke="#000" stroke-width="0.8" stroke-linejoin="round">0.6</text>
<line x1="1438.7" y1="781.2" x2="1447.4" y2="781.2" stroke="#000" stroke-width="2.8" stroke-linecap="butt"/>
<text transform="translate(1423.4,793.4) scale(0.895,1)" font-size="26.7" text-anchor="end" stroke="#000" stroke-width="0.8" stroke-linejoin="round">0.8</text>
<line x1="1447.4" y1="1037.2" x2="1447.4" y2="1046" stroke="#000" stroke-width="2.8" stroke-linecap="butt"/>
<text transform="translate(1447.4,1081.8) scale(0.895,1)" font-size="26.7" text-anchor="middle" stroke="#000" stroke-width="0.8" stroke-linejoin="round">274</text>
<line x1="1498.5" y1="1037.2" x2="1498.5" y2="1046" stroke="#000" stroke-width="2.8" stroke-linecap="butt"/>
<text transform="translate(1498.5,1081.8) scale(0.895,1)" font-size="26.7" text-anchor="middle" stroke="#000" stroke-width="0.8" stroke-linejoin="round">275</text>
<line x1="1549.6" y1="1037.2" x2="1549.6" y2="1046" stroke="#000" stroke-width="2.8" stroke-linecap="butt"/>
<text transform="translate(1549.6,1081.8) scale(0.895,1)" font-size="26.7" text-anchor="middle" stroke="#000" stroke-width="0.8" stroke-linejoin="round">276</text>
<line x1="1600.7" y1="1037.2" x2="1600.7" y2="1046" stroke="#000" stroke-width="2.8" stroke-linecap="butt"/>
<text transform="translate(1600.7,1081.8) scale(0.895,1)" font-size="26.7" text-anchor="middle" stroke="#000" stroke-width="0.8" stroke-linejoin="round">277</text>
<line x1="1651.8" y1="1037.2" x2="1651.8" y2="1046" stroke="#000" stroke-width="2.8" stroke-linecap="butt"/>
<text transform="translate(1651.8,1081.8) scale(0.895,1)" font-size="26.7" text-anchor="middle" stroke="#000" stroke-width="0.8" stroke-linejoin="round">278</text>
<line x1="1702.9" y1="1037.2" x2="1702.9" y2="1046" stroke="#000" stroke-width="2.8" stroke-linecap="butt"/>
<text transform="translate(1702.9,1081.8) scale(0.895,1)" font-size="26.7" text-anchor="middle" stroke="#000" stroke-width="0.8" stroke-linejoin="round">279</text>
<line x1="1754" y1="1037.2" x2="1754" y2="1046" stroke="#000" stroke-width="2.8" stroke-linecap="butt"/>
<text transform="translate(1754,1081.8) scale(0.895,1)" font-size="26.7" text-anchor="middle" stroke="#000" stroke-width="0.8" stroke-linejoin="round">280</text>
<text x="1563.4" y="1133.2" font-size="33" font-style="italic" textLength="73.3" lengthAdjust="spacingAndGlyphs" stroke="#000" stroke-width="0.8" stroke-linejoin="round">m / z</text>
<g transform="translate(1370,1023) rotate(-90)"><text id="t9" font-size="33.9" stroke="#000" stroke-width="0.8" stroke-linejoin="round">counts ( x10<tspan font-size="24" dy="-14">5</tspan><tspan dy="14"> )</tspan></text><rect x="147.58" y="-4.54" width="7.34" height="6.74" fill="#fff"/><rect x="158.9" y="-4.54" width="6.32" height="6.74" fill="#fff"/></g>
<path d="M1447.4,1036.72 L1447.8,1036.55 L1449,1037.19 L1449.4,1036.89 L1450.6,1036.83 L1451.8,1035.92 L1452.6,1035.86 L1453.4,1036.16 L1455,1036.22 L1456.2,1037.04 L1457.8,1036.33 L1458.2,1035.91 L1459,1035.56 L1461.8,1037.05 L1462.6,1036.86 L1464.2,1035.73 L1465.4,1036.59 L1466.2,1036.9 L1467,1036.84 L1467.4,1036.56 L1467.8,1036.6 L1468.6,1037.1 L1469.4,1037.13 L1470.6,1036.89 L1471.4,1037.13 L1472.6,1036.8 L1473,1037.13 L1473.4,1037.11 L1474.2,1036.8 L1475,1037.03 L1477,1036.88 L1477.8,1037.27 L1478.6,1036.97 L1481,1037.19 L1481.4,1036.86 L1482.2,1036.65 L1485,1037.18 L1485.4,1036.94 L1486.6,1037.17 L1487.4,1037.13 L1487.8,1036.93 L1489,1037.13 L1490.2,1036.85 L1491,1037.34 L1492.2,1036.98 L1492.6,1037.25 L1496.6,1036.73 L1497.4,1036.05 L1497.8,1035.95 L1499,1036.17 L1499.8,1036.8 L1500.6,1036.97 L1501.4,1037.41 L1502.6,1036.76 L1503.8,1037.1 L1504.2,1036.79 L1504.6,1036.94 L1505,1036.76 L1505.4,1037 L1507.8,1037.16 L1509.4,1036.74 L1510.2,1037.02 L1510.6,1036.97 L1511.4,1036.62 L1512.6,1037.11 L1513.8,1037.13 L1514.2,1036.95 L1515.4,1037.31 L1517,1036.81 L1518.6,1037.13 L1519.8,1036.79 L1520.2,1036.94 L1521.4,1036.73 L1523,1037.1 L1523.8,1036.8 L1525.8,1037.33 L1526.6,1037.24 L1527.8,1036.77 L1529.4,1037.26 L1529.8,1037.01 L1530.2,1037.19 L1530.6,1036.87 L1531.4,1036.85 L1532.2,1037.1 L1535,1036.9 L1535.8,1037.13 L1537,1036.76 L1537.8,1036.98 L1539,1036.93 L1540.2,1037.15 L1541,1036.71 L1542.2,1036.96 L1542.6,1036.77 L1544.2,1036.89 L1545.4,1037.22 L1546.6,1036.93 L1547.8,1037.38 L1548.6,1037 L1549,1036.18 L1549.4,1033.64 L1549.8,1025.58 L1550.2,1006.38 L1551.8,813.88 L1552.2,810.87 L1553,839.2 L1555,959.59 L1556.2,1005.92 L1556.6,1014.92 L1557.4,1025.22 L1558.2,1030.1 L1559,1032.33 L1559.8,1033.55 L1560.6,1034.4 L1561.8,1034.85 L1562.6,1035.54 L1563.4,1035.49 L1564.6,1036.2 L1565,1036.01 L1565.4,1036.08 L1566.2,1036.74 L1567.8,1036.7 L1568.2,1036.92 L1568.6,1036.8 L1569.8,1036.97 L1571,1036.62 L1571.8,1037.06 L1572.2,1036.82 L1573,1036.85 L1573.4,1037.26 L1576.6,1036.93 L1577.4,1036.64 L1578.6,1037.09 L1581,1036.79 L1581.4,1037.22 L1582.2,1037.22 L1582.6,1036.77 L1583,1036.65 L1584.2,1037.3 L1584.6,1036.99 L1585.4,1036.76 L1586.6,1037.07 L1587.4,1036.81 L1588.2,1036.93 L1589.4,1037.38 L1590.6,1036.8 L1591,1036.97 L1591.4,1036.81 L1591.8,1037.11 L1593,1037.31 L1593.8,1037.23 L1594.2,1036.95 L1595.4,1037.24 L1596.6,1036.78 L1597.4,1036.82 L1597.8,1037.07 L1599,1036.69 L1600.2,1037.01 L1600.6,1036.73 L1601,1035.94 L1601.4,1033.8 L1601.8,1029.75 L1603,1008.69 L1603.4,1007.34 L1603.8,1008.85 L1604.2,1011.74 L1606.2,1030.92 L1606.6,1033.27 L1607.4,1035.92 L1608.2,1036.65 L1608.6,1036.52 L1609.8,1036.75 L1610.2,1036.65 L1611.4,1037.01 L1612.6,1036.83 L1614.2,1036.9 L1614.6,1036.64 L1615.4,1036.55 L1617,1037.13 L1618.6,1036.99 L1620.2,1037.15 L1621,1036.98 L1621.4,1036.69 L1623,1037.31 L1624.2,1036.78 L1625,1037.16 L1626.2,1036.71 L1627,1036.73 L1629,1035.74 L1630.2,1036.05 L1631.4,1035.86 L1632.6,1036.51 L1634.2,1036.87 L1634.6,1036.8 L1635,1037.02 L1635.4,1036.9 L1637,1037.2 L1639.4,1036.87 L1640.2,1037.19 L1641.4,1036.91 L1642.6,1037.17 L1644.2,1037.02 L1645,1036.67 L1646.6,1037.33 L1647.8,1037.04 L1648.2,1037.35 L1649.4,1036.94 L1650.6,1037.38 L1651,1037.31 L1651.8,1036.9 L1652.2,1036.93 L1653,1035.98 L1653.8,1031.91 L1654.6,1025.98 L1655,1025.18 L1655.8,1026.74 L1657.4,1032.94 L1658.2,1035 L1659,1036.51 L1660.6,1037.08 L1661.8,1036.7 L1664.2,1036.96 L1665,1036.83 L1665.8,1037.15 L1666.6,1037 L1668.6,1037.27 L1669,1036.89 L1671,1037.15 L1673,1036.8 L1673.8,1036.95 L1674.6,1036.61 L1675.4,1036.9 L1675.8,1037.38 L1677,1036.76 L1678.2,1037.35 L1679,1037.18 L1679.4,1036.9 L1682.2,1037.12 L1683,1036.87 L1684.6,1037.26 L1685.8,1036.89 L1687.4,1037.12 L1688.6,1036.56 L1689.8,1036.99 L1691.4,1037.18 L1692.2,1036.87 L1692.6,1036.84 L1693.4,1037.18 L1694.2,1036.99 L1695.4,1037.1 L1696.6,1036.82 L1698.6,1037.16 L1699.8,1036.41 L1701.4,1037.06 L1701.8,1036.98 L1703.4,1035.46 L1704.2,1035.1 L1704.6,1035.19 L1705.8,1034.43 L1707.8,1034.99 L1709,1034.98 L1711.4,1036.4 L1711.8,1036.34 L1713,1036.71 L1713.8,1036.56 L1715,1036.94 L1715.8,1036.6 L1718.6,1037.03 L1721.8,1036.86 L1722.6,1037.24 L1723.8,1036.71 L1724.2,1036.92 L1724.6,1036.78 L1725.4,1036.98 L1726.2,1037.34 L1729.4,1036.68 L1730.6,1037.04 L1731.8,1036.85 L1732.6,1037.33 L1733.8,1036.82 L1734.2,1037.07 L1734.6,1036.86 L1735.8,1036.99 L1736.6,1036.8 L1737,1036.98 L1738.2,1036.75 L1739.4,1037.2 L1740.2,1037 L1741.8,1037.07 L1743,1036.72 L1743.4,1036.73 L1744.6,1037.38 L1746.2,1036.84 L1747,1036.78 L1748.2,1037.09 L1749,1037.09 L1750.2,1036.74 L1751.4,1037.31 L1752.6,1036.88 L1753,1036.93 L1753.4,1037.28 L1753.8,1037.24" fill="none" stroke="#000" stroke-width="2.4" stroke-linejoin="round" stroke-linecap="butt" />
</g>
</svg>
</body></html>
